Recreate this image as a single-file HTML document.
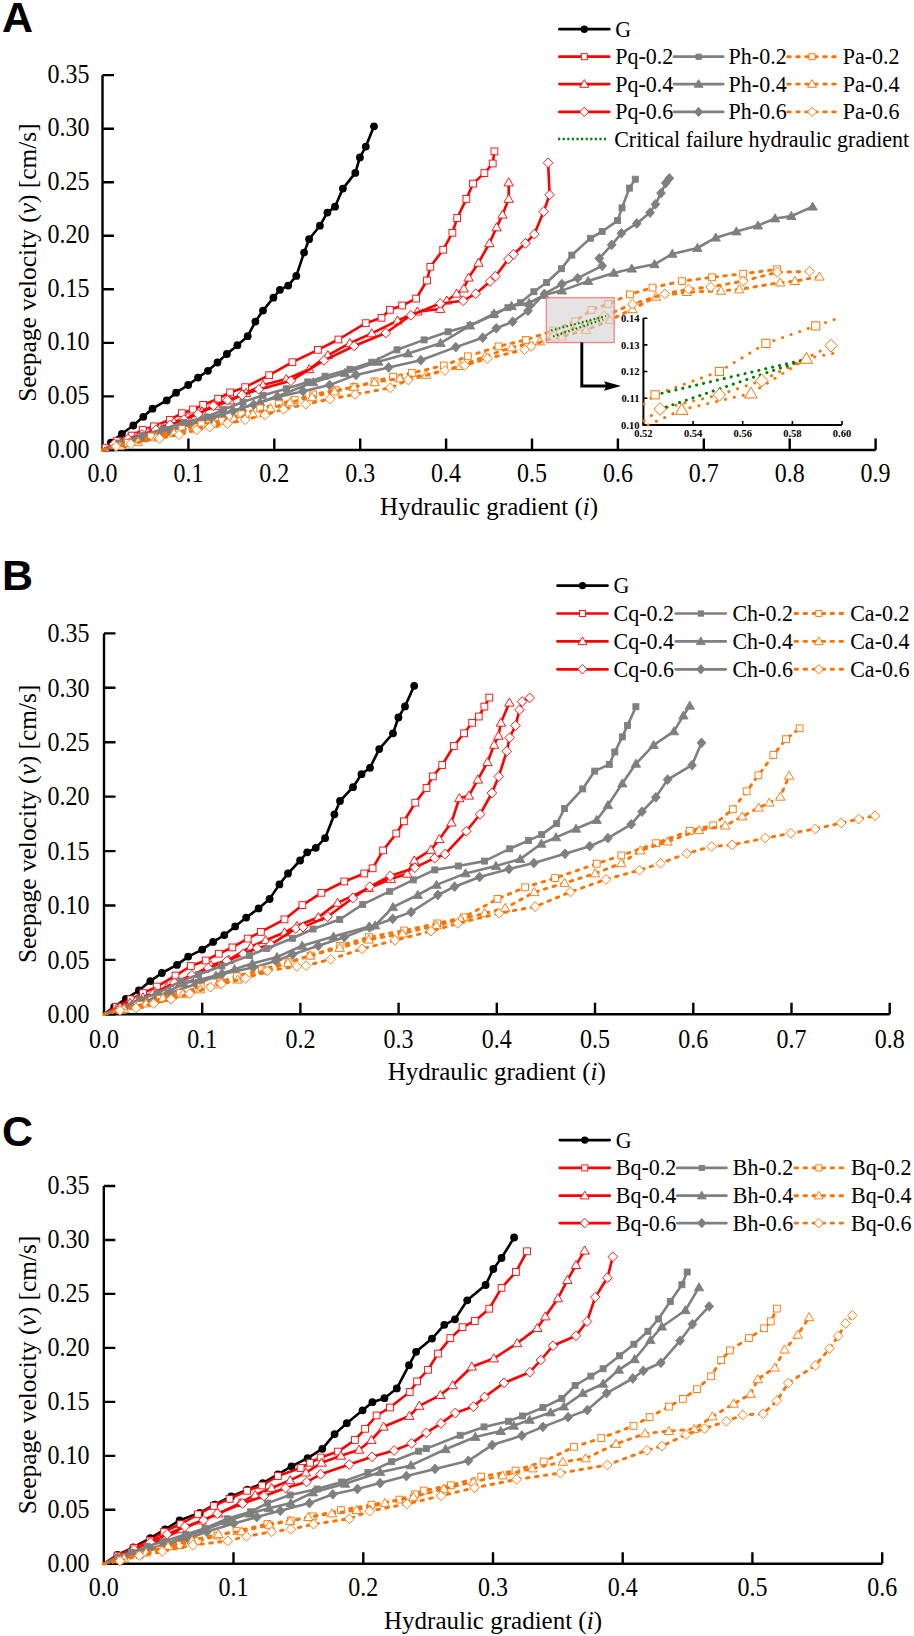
<!DOCTYPE html><html><head><meta charset="utf-8"><style>html,body{margin:0;padding:0;background:#fff;}svg{display:block;}</style></head><body>
<svg width="914" height="1636" viewBox="0 0 914 1636">
<rect width="914" height="1636" fill="#fff"/>
<g font-family='"Liberation Serif", serif' fill="#000">
<path d="M102.5,75.2V450.0H875.6" fill="none" stroke="#000" stroke-width="2.4"/>
<path d="M102.5,450.0h11.5M102.5,396.4h11.5M102.5,342.9h11.5M102.5,289.3h11.5M102.5,235.8h11.5M102.5,182.2h11.5M102.5,128.7h11.5M102.5,75.1h11.5M188.4,450.0v-11.5M274.3,450.0v-11.5M360.2,450.0v-11.5M446.1,450.0v-11.5M532.0,450.0v-11.5M617.9,450.0v-11.5M703.8,450.0v-11.5M789.7,450.0v-11.5M875.6,450.0v-11.5" fill="none" stroke="#000" stroke-width="2.4"/>
<text transform="translate(89.5,457.5) scale(1,1.12)" text-anchor="end" font-size="24">0.00</text>
<text transform="translate(89.5,403.9) scale(1,1.12)" text-anchor="end" font-size="24">0.05</text>
<text transform="translate(89.5,350.4) scale(1,1.12)" text-anchor="end" font-size="24">0.10</text>
<text transform="translate(89.5,296.8) scale(1,1.12)" text-anchor="end" font-size="24">0.15</text>
<text transform="translate(89.5,243.3) scale(1,1.12)" text-anchor="end" font-size="24">0.20</text>
<text transform="translate(89.5,189.8) scale(1,1.12)" text-anchor="end" font-size="24">0.25</text>
<text transform="translate(89.5,136.2) scale(1,1.12)" text-anchor="end" font-size="24">0.30</text>
<text transform="translate(89.5,82.6) scale(1,1.12)" text-anchor="end" font-size="24">0.35</text>
<text transform="translate(102.5,481.5) scale(1,1.12)" text-anchor="middle" font-size="24">0.0</text>
<text transform="translate(188.4,481.5) scale(1,1.12)" text-anchor="middle" font-size="24">0.1</text>
<text transform="translate(274.3,481.5) scale(1,1.12)" text-anchor="middle" font-size="24">0.2</text>
<text transform="translate(360.2,481.5) scale(1,1.12)" text-anchor="middle" font-size="24">0.3</text>
<text transform="translate(446.1,481.5) scale(1,1.12)" text-anchor="middle" font-size="24">0.4</text>
<text transform="translate(532.0,481.5) scale(1,1.12)" text-anchor="middle" font-size="24">0.5</text>
<text transform="translate(617.9,481.5) scale(1,1.12)" text-anchor="middle" font-size="24">0.6</text>
<text transform="translate(703.8,481.5) scale(1,1.12)" text-anchor="middle" font-size="24">0.7</text>
<text transform="translate(789.7,481.5) scale(1,1.12)" text-anchor="middle" font-size="24">0.8</text>
<text transform="translate(875.6,481.5) scale(1,1.12)" text-anchor="middle" font-size="24">0.9</text>
<text x="489.1" y="514.5" text-anchor="middle" font-size="25">Hydraulic gradient (<tspan font-style="italic">i</tspan>)</text>
<text transform="translate(36,262.6) rotate(-90)" text-anchor="middle" font-size="25.4">Seepage velocity (<tspan font-style="italic">v</tspan>) [cm/s]</text>
<text x="2" y="32.3" font-family="Liberation Sans, sans-serif" font-weight="bold" font-size="43">A</text>
<path d="M559.4,29.2H609.2" stroke="#000" stroke-width="2.7" stroke-linecap="round"/>
<circle cx="584.3" cy="29.2" r="3.70" fill="#000"/>
<text transform="translate(615.2,36.7) scale(1,1.05)" font-size="22">G</text>
<path d="M559.4,56.7H609.2" stroke="#ff0000" stroke-width="2.7" stroke-linecap="round"/>
<rect x="581.3" y="53.7" width="6.0" height="6.0" fill="#fff" stroke="#ff0000" stroke-width="0.9"/>
<text transform="translate(615.2,64.2) scale(1,1.05)" font-size="22">Pq-0.2</text>
<path d="M674.0,56.7H723.2" stroke="#7f7f7f" stroke-width="2.7" stroke-linecap="round"/>
<rect x="696.0" y="54.1" width="5.3" height="5.3" fill="#7f7f7f" stroke="#7f7f7f" stroke-width="0.9"/>
<text transform="translate(728.6,64.2) scale(1,1.05)" font-size="22">Ph-0.2</text>
<path d="M787.7,56.7H838" stroke="#ff7200" stroke-width="2.9" stroke-dasharray="2.6 6.4" stroke-linecap="round"/>
<rect x="809.1" y="53.7" width="6.0" height="6.0" fill="#fff" stroke="#ff7200" stroke-width="0.9"/>
<text transform="translate(842.8,64.2) scale(1,1.05)" font-size="22">Pa-0.2</text>
<path d="M559.4,84.1H609.2" stroke="#ff0000" stroke-width="2.7" stroke-linecap="round"/>
<path d="M584.3,79.6L588.8,87.3H579.8Z" fill="#fff" stroke="#ff0000" stroke-width="0.9"/>
<text transform="translate(615.2,91.6) scale(1,1.05)" font-size="22">Pq-0.4</text>
<path d="M674.0,84.1H723.2" stroke="#7f7f7f" stroke-width="2.7" stroke-linecap="round"/>
<path d="M698.6,79.6L703.1,87.3H694.1Z" fill="#7f7f7f" stroke="#7f7f7f" stroke-width="0.9"/>
<text transform="translate(728.6,91.6) scale(1,1.05)" font-size="22">Ph-0.4</text>
<path d="M787.7,84.1H838" stroke="#ff7200" stroke-width="2.9" stroke-dasharray="2.6 6.4" stroke-linecap="round"/>
<path d="M812.1,79.6L816.6,87.3H807.6Z" fill="#fff" stroke="#ff7200" stroke-width="0.9"/>
<text transform="translate(842.8,91.6) scale(1,1.05)" font-size="22">Pa-0.4</text>
<path d="M559.4,111.9H609.2" stroke="#ff0000" stroke-width="2.7" stroke-linecap="round"/>
<path d="M584.3,107.2L588.9,111.9L584.3,116.6L579.7,111.9Z" fill="#fff" stroke="#ff0000" stroke-width="0.9"/>
<text transform="translate(615.2,119.4) scale(1,1.05)" font-size="22">Pq-0.6</text>
<path d="M674.0,111.9H723.2" stroke="#7f7f7f" stroke-width="2.7" stroke-linecap="round"/>
<path d="M698.6,107.2L702.8,111.9L698.6,116.6L694.4,111.9Z" fill="#7f7f7f" stroke="#7f7f7f" stroke-width="0.9"/>
<text transform="translate(728.6,119.4) scale(1,1.05)" font-size="22">Ph-0.6</text>
<path d="M787.7,111.9H838" stroke="#ff7200" stroke-width="2.9" stroke-dasharray="2.6 6.4" stroke-linecap="round"/>
<path d="M812.1,107.2L816.7,111.9L812.1,116.6L807.5,111.9Z" fill="#fff" stroke="#ff7200" stroke-width="0.9"/>
<text transform="translate(842.8,119.4) scale(1,1.05)" font-size="22">Pa-0.6</text>
<path d="M558,139.0H606" stroke="#008000" stroke-width="2.6" stroke-dasharray="2.2 2.4"/>
<text transform="translate(614.2,146.5) scale(1,1.05)" font-size="22">Critical failure hydraulic gradient</text>
<path d="M102.5,450.0L110.9,442.6L121.9,433.8L133.3,425.5L143.3,416.8L152.5,408.7L166.7,400.4L176.1,392.7L188.2,385.0L198.0,377.6L207.9,370.8L217.5,362.5L226.9,354.0L237.4,345.2L247.7,336.2L255.4,321.6L263.0,310.6L273.4,297.7L279.9,289.8L288.2,285.6L296.3,275.9L304.1,252.6L309.1,239.2L319.9,225.7L327.4,212.6L335.0,206.7L342.9,188.6L355.3,172.9L359.9,157.4L365.8,146.6L374.0,126.3" fill="none" stroke="#000" stroke-width="2.6" stroke-linejoin="round"/>
<circle cx="110.9" cy="442.6" r="3.89" fill="#000"/>
<circle cx="121.9" cy="433.8" r="3.89" fill="#000"/>
<circle cx="133.3" cy="425.5" r="3.89" fill="#000"/>
<circle cx="143.3" cy="416.8" r="3.89" fill="#000"/>
<circle cx="152.5" cy="408.7" r="3.89" fill="#000"/>
<circle cx="166.7" cy="400.4" r="3.89" fill="#000"/>
<circle cx="176.1" cy="392.7" r="3.89" fill="#000"/>
<circle cx="188.2" cy="385.0" r="3.89" fill="#000"/>
<circle cx="198.0" cy="377.6" r="3.89" fill="#000"/>
<circle cx="207.9" cy="370.8" r="3.89" fill="#000"/>
<circle cx="217.5" cy="362.5" r="3.89" fill="#000"/>
<circle cx="226.9" cy="354.0" r="3.89" fill="#000"/>
<circle cx="237.4" cy="345.2" r="3.89" fill="#000"/>
<circle cx="247.7" cy="336.2" r="3.89" fill="#000"/>
<circle cx="255.4" cy="321.6" r="3.89" fill="#000"/>
<circle cx="263.0" cy="310.6" r="3.89" fill="#000"/>
<circle cx="273.4" cy="297.7" r="3.89" fill="#000"/>
<circle cx="279.9" cy="289.8" r="3.89" fill="#000"/>
<circle cx="288.2" cy="285.6" r="3.89" fill="#000"/>
<circle cx="296.3" cy="275.9" r="3.89" fill="#000"/>
<circle cx="304.1" cy="252.6" r="3.89" fill="#000"/>
<circle cx="309.1" cy="239.2" r="3.89" fill="#000"/>
<circle cx="319.9" cy="225.7" r="3.89" fill="#000"/>
<circle cx="327.4" cy="212.6" r="3.89" fill="#000"/>
<circle cx="335.0" cy="206.7" r="3.89" fill="#000"/>
<circle cx="342.9" cy="188.6" r="3.89" fill="#000"/>
<circle cx="355.3" cy="172.9" r="3.89" fill="#000"/>
<circle cx="359.9" cy="157.4" r="3.89" fill="#000"/>
<circle cx="365.8" cy="146.6" r="3.89" fill="#000"/>
<circle cx="374.0" cy="126.3" r="3.89" fill="#000"/>
<path d="M102.5,450.0L105.6,447.7L116.7,441.1L131.6,435.6L142.8,430.0L153.9,426.3L169.8,419.8L181.8,413.2L193.0,409.5L203.2,404.9L218.1,398.7L230.2,392.4L245.1,387.2L269.2,375.2L292.4,362.2L317.9,349.8L338.4,339.5L365.7,323.2L381.5,317.8L389.9,309.8L402.2,305.5L416.1,298.6L427.0,280.5L430.3,266.8L443.2,249.7L452.4,232.8L457.2,218.0L466.4,198.9L473.0,183.6L484.4,173.1L492.7,163.5L494.4,151.4" fill="none" stroke="#ff0000" stroke-width="2.6" stroke-linejoin="round"/>
<rect x="102.2" y="444.3" width="6.8" height="6.8" fill="#fff" stroke="#ff0000" stroke-width="0.9"/>
<rect x="113.3" y="437.7" width="6.8" height="6.8" fill="#fff" stroke="#ff0000" stroke-width="0.9"/>
<rect x="128.2" y="432.2" width="6.8" height="6.8" fill="#fff" stroke="#ff0000" stroke-width="0.9"/>
<rect x="139.4" y="426.6" width="6.8" height="6.8" fill="#fff" stroke="#ff0000" stroke-width="0.9"/>
<rect x="150.5" y="422.9" width="6.8" height="6.8" fill="#fff" stroke="#ff0000" stroke-width="0.9"/>
<rect x="166.4" y="416.4" width="6.8" height="6.8" fill="#fff" stroke="#ff0000" stroke-width="0.9"/>
<rect x="178.4" y="409.8" width="6.8" height="6.8" fill="#fff" stroke="#ff0000" stroke-width="0.9"/>
<rect x="189.6" y="406.1" width="6.8" height="6.8" fill="#fff" stroke="#ff0000" stroke-width="0.9"/>
<rect x="199.8" y="401.5" width="6.8" height="6.8" fill="#fff" stroke="#ff0000" stroke-width="0.9"/>
<rect x="214.7" y="395.3" width="6.8" height="6.8" fill="#fff" stroke="#ff0000" stroke-width="0.9"/>
<rect x="226.8" y="389.0" width="6.8" height="6.8" fill="#fff" stroke="#ff0000" stroke-width="0.9"/>
<rect x="241.7" y="383.8" width="6.8" height="6.8" fill="#fff" stroke="#ff0000" stroke-width="0.9"/>
<rect x="265.8" y="371.8" width="6.8" height="6.8" fill="#fff" stroke="#ff0000" stroke-width="0.9"/>
<rect x="289.0" y="358.8" width="6.8" height="6.8" fill="#fff" stroke="#ff0000" stroke-width="0.9"/>
<rect x="314.5" y="346.4" width="6.8" height="6.8" fill="#fff" stroke="#ff0000" stroke-width="0.9"/>
<rect x="335.0" y="336.1" width="6.8" height="6.8" fill="#fff" stroke="#ff0000" stroke-width="0.9"/>
<rect x="362.3" y="319.8" width="6.8" height="6.8" fill="#fff" stroke="#ff0000" stroke-width="0.9"/>
<rect x="378.1" y="314.4" width="6.8" height="6.8" fill="#fff" stroke="#ff0000" stroke-width="0.9"/>
<rect x="386.5" y="306.4" width="6.8" height="6.8" fill="#fff" stroke="#ff0000" stroke-width="0.9"/>
<rect x="398.8" y="302.1" width="6.8" height="6.8" fill="#fff" stroke="#ff0000" stroke-width="0.9"/>
<rect x="412.7" y="295.2" width="6.8" height="6.8" fill="#fff" stroke="#ff0000" stroke-width="0.9"/>
<rect x="423.6" y="277.1" width="6.8" height="6.8" fill="#fff" stroke="#ff0000" stroke-width="0.9"/>
<rect x="426.9" y="263.4" width="6.8" height="6.8" fill="#fff" stroke="#ff0000" stroke-width="0.9"/>
<rect x="439.8" y="246.3" width="6.8" height="6.8" fill="#fff" stroke="#ff0000" stroke-width="0.9"/>
<rect x="449.0" y="229.4" width="6.8" height="6.8" fill="#fff" stroke="#ff0000" stroke-width="0.9"/>
<rect x="453.8" y="214.6" width="6.8" height="6.8" fill="#fff" stroke="#ff0000" stroke-width="0.9"/>
<rect x="463.0" y="195.5" width="6.8" height="6.8" fill="#fff" stroke="#ff0000" stroke-width="0.9"/>
<rect x="469.6" y="180.2" width="6.8" height="6.8" fill="#fff" stroke="#ff0000" stroke-width="0.9"/>
<rect x="481.0" y="169.7" width="6.8" height="6.8" fill="#fff" stroke="#ff0000" stroke-width="0.9"/>
<rect x="489.3" y="160.1" width="6.8" height="6.8" fill="#fff" stroke="#ff0000" stroke-width="0.9"/>
<rect x="491.0" y="148.0" width="6.8" height="6.8" fill="#fff" stroke="#ff0000" stroke-width="0.9"/>
<path d="M102.5,450.0L112.0,445.5L124.0,441.0L136.0,436.5L148.0,432.0L160.0,427.5L174.0,422.0L188.0,417.0L202.0,411.5L216.0,406.0L230.0,400.5L246.0,393.0L263.0,385.1L286.3,379.1L309.2,369.3L327.8,355.3L349.9,343.2L371.8,333.4L397.5,320.6L417.4,311.6L440.2,309.0L446.7,300.7L456.6,293.7L463.8,288.6L468.6,277.7L478.5,262.8L489.4,243.3L496.6,227.4L502.5,214.7L508.7,198.9L508.7,182.5" fill="none" stroke="#ff0000" stroke-width="2.6" stroke-linejoin="round"/>
<path d="M112.0,440.8L116.7,448.9H107.3Z" fill="#fff" stroke="#ff0000" stroke-width="0.9"/>
<path d="M124.0,436.3L128.7,444.4H119.3Z" fill="#fff" stroke="#ff0000" stroke-width="0.9"/>
<path d="M136.0,431.8L140.7,439.9H131.3Z" fill="#fff" stroke="#ff0000" stroke-width="0.9"/>
<path d="M148.0,427.3L152.7,435.4H143.3Z" fill="#fff" stroke="#ff0000" stroke-width="0.9"/>
<path d="M160.0,422.8L164.7,430.9H155.3Z" fill="#fff" stroke="#ff0000" stroke-width="0.9"/>
<path d="M174.0,417.3L178.7,425.4H169.3Z" fill="#fff" stroke="#ff0000" stroke-width="0.9"/>
<path d="M188.0,412.3L192.7,420.4H183.3Z" fill="#fff" stroke="#ff0000" stroke-width="0.9"/>
<path d="M202.0,406.8L206.7,414.9H197.3Z" fill="#fff" stroke="#ff0000" stroke-width="0.9"/>
<path d="M216.0,401.3L220.7,409.4H211.3Z" fill="#fff" stroke="#ff0000" stroke-width="0.9"/>
<path d="M230.0,395.8L234.7,403.9H225.3Z" fill="#fff" stroke="#ff0000" stroke-width="0.9"/>
<path d="M246.0,388.3L250.7,396.4H241.3Z" fill="#fff" stroke="#ff0000" stroke-width="0.9"/>
<path d="M263.0,380.4L267.7,388.5H258.3Z" fill="#fff" stroke="#ff0000" stroke-width="0.9"/>
<path d="M286.3,374.4L291.0,382.5H281.6Z" fill="#fff" stroke="#ff0000" stroke-width="0.9"/>
<path d="M309.2,364.6L313.9,372.7H304.5Z" fill="#fff" stroke="#ff0000" stroke-width="0.9"/>
<path d="M327.8,350.6L332.5,358.7H323.1Z" fill="#fff" stroke="#ff0000" stroke-width="0.9"/>
<path d="M349.9,338.5L354.6,346.6H345.2Z" fill="#fff" stroke="#ff0000" stroke-width="0.9"/>
<path d="M371.8,328.7L376.5,336.8H367.1Z" fill="#fff" stroke="#ff0000" stroke-width="0.9"/>
<path d="M397.5,315.9L402.2,324.0H392.8Z" fill="#fff" stroke="#ff0000" stroke-width="0.9"/>
<path d="M417.4,306.9L422.1,315.0H412.7Z" fill="#fff" stroke="#ff0000" stroke-width="0.9"/>
<path d="M440.2,304.3L444.9,312.4H435.5Z" fill="#fff" stroke="#ff0000" stroke-width="0.9"/>
<path d="M446.7,296.0L451.4,304.1H442.0Z" fill="#fff" stroke="#ff0000" stroke-width="0.9"/>
<path d="M456.6,289.0L461.3,297.1H451.9Z" fill="#fff" stroke="#ff0000" stroke-width="0.9"/>
<path d="M463.8,283.9L468.5,292.0H459.1Z" fill="#fff" stroke="#ff0000" stroke-width="0.9"/>
<path d="M468.6,273.0L473.3,281.1H463.9Z" fill="#fff" stroke="#ff0000" stroke-width="0.9"/>
<path d="M478.5,258.1L483.2,266.2H473.8Z" fill="#fff" stroke="#ff0000" stroke-width="0.9"/>
<path d="M489.4,238.6L494.1,246.7H484.7Z" fill="#fff" stroke="#ff0000" stroke-width="0.9"/>
<path d="M496.6,222.7L501.3,230.8H491.9Z" fill="#fff" stroke="#ff0000" stroke-width="0.9"/>
<path d="M502.5,210.0L507.2,218.1H497.8Z" fill="#fff" stroke="#ff0000" stroke-width="0.9"/>
<path d="M508.7,194.2L513.4,202.3H504.0Z" fill="#fff" stroke="#ff0000" stroke-width="0.9"/>
<path d="M508.7,177.8L513.4,185.9H504.0Z" fill="#fff" stroke="#ff0000" stroke-width="0.9"/>
<path d="M102.5,450.0L114.0,444.0L128.0,439.0L142.0,434.5L156.0,430.0L170.0,425.0L184.0,419.5L198.0,414.0L213.5,405.8L227.4,400.2L242.0,395.0L258.9,389.4L290.9,380.8L324.0,360.4L354.2,346.0L385.8,333.0L410.9,315.3L440.2,303.5L463.2,300.7L475.8,293.7L490.1,281.4L495.5,276.2L508.4,259.1L513.5,254.3L525.5,243.3L534.3,234.2L543.7,211.6L549.6,194.8L548.1,162.8" fill="none" stroke="#ff0000" stroke-width="2.6" stroke-linejoin="round"/>
<path d="M114.0,439.1L118.8,444.0L114.0,448.9L109.2,444.0Z" fill="#fff" stroke="#ff0000" stroke-width="0.9"/>
<path d="M128.0,434.1L132.8,439.0L128.0,443.9L123.2,439.0Z" fill="#fff" stroke="#ff0000" stroke-width="0.9"/>
<path d="M142.0,429.6L146.8,434.5L142.0,439.4L137.2,434.5Z" fill="#fff" stroke="#ff0000" stroke-width="0.9"/>
<path d="M156.0,425.1L160.8,430.0L156.0,434.9L151.2,430.0Z" fill="#fff" stroke="#ff0000" stroke-width="0.9"/>
<path d="M170.0,420.1L174.8,425.0L170.0,429.9L165.2,425.0Z" fill="#fff" stroke="#ff0000" stroke-width="0.9"/>
<path d="M184.0,414.6L188.8,419.5L184.0,424.4L179.2,419.5Z" fill="#fff" stroke="#ff0000" stroke-width="0.9"/>
<path d="M198.0,409.1L202.8,414.0L198.0,418.9L193.2,414.0Z" fill="#fff" stroke="#ff0000" stroke-width="0.9"/>
<path d="M213.5,400.9L218.3,405.8L213.5,410.7L208.7,405.8Z" fill="#fff" stroke="#ff0000" stroke-width="0.9"/>
<path d="M227.4,395.3L232.2,400.2L227.4,405.1L222.6,400.2Z" fill="#fff" stroke="#ff0000" stroke-width="0.9"/>
<path d="M242.0,390.1L246.8,395.0L242.0,399.9L237.2,395.0Z" fill="#fff" stroke="#ff0000" stroke-width="0.9"/>
<path d="M258.9,384.5L263.7,389.4L258.9,394.3L254.1,389.4Z" fill="#fff" stroke="#ff0000" stroke-width="0.9"/>
<path d="M290.9,375.9L295.7,380.8L290.9,385.7L286.1,380.8Z" fill="#fff" stroke="#ff0000" stroke-width="0.9"/>
<path d="M324.0,355.5L328.8,360.4L324.0,365.3L319.2,360.4Z" fill="#fff" stroke="#ff0000" stroke-width="0.9"/>
<path d="M354.2,341.1L359.0,346.0L354.2,350.9L349.4,346.0Z" fill="#fff" stroke="#ff0000" stroke-width="0.9"/>
<path d="M385.8,328.1L390.6,333.0L385.8,337.9L381.0,333.0Z" fill="#fff" stroke="#ff0000" stroke-width="0.9"/>
<path d="M410.9,310.4L415.7,315.3L410.9,320.2L406.1,315.3Z" fill="#fff" stroke="#ff0000" stroke-width="0.9"/>
<path d="M440.2,298.6L445.0,303.5L440.2,308.4L435.4,303.5Z" fill="#fff" stroke="#ff0000" stroke-width="0.9"/>
<path d="M463.2,295.8L468.0,300.7L463.2,305.6L458.4,300.7Z" fill="#fff" stroke="#ff0000" stroke-width="0.9"/>
<path d="M475.8,288.8L480.6,293.7L475.8,298.6L471.0,293.7Z" fill="#fff" stroke="#ff0000" stroke-width="0.9"/>
<path d="M490.1,276.5L494.9,281.4L490.1,286.3L485.3,281.4Z" fill="#fff" stroke="#ff0000" stroke-width="0.9"/>
<path d="M495.5,271.3L500.3,276.2L495.5,281.1L490.7,276.2Z" fill="#fff" stroke="#ff0000" stroke-width="0.9"/>
<path d="M508.4,254.2L513.2,259.1L508.4,264.0L503.6,259.1Z" fill="#fff" stroke="#ff0000" stroke-width="0.9"/>
<path d="M513.5,249.4L518.3,254.3L513.5,259.2L508.7,254.3Z" fill="#fff" stroke="#ff0000" stroke-width="0.9"/>
<path d="M525.5,238.4L530.3,243.3L525.5,248.2L520.7,243.3Z" fill="#fff" stroke="#ff0000" stroke-width="0.9"/>
<path d="M534.3,229.3L539.1,234.2L534.3,239.1L529.5,234.2Z" fill="#fff" stroke="#ff0000" stroke-width="0.9"/>
<path d="M543.7,206.7L548.5,211.6L543.7,216.5L538.9,211.6Z" fill="#fff" stroke="#ff0000" stroke-width="0.9"/>
<path d="M549.6,189.9L554.4,194.8L549.6,199.7L544.8,194.8Z" fill="#fff" stroke="#ff0000" stroke-width="0.9"/>
<path d="M548.1,157.9L552.9,162.8L548.1,167.7L543.3,162.8Z" fill="#fff" stroke="#ff0000" stroke-width="0.9"/>
<path d="M102.5,450.0L118.6,443.0L141.9,435.6L163.2,429.1L183.7,422.5L207.0,417.0L223.7,409.5L243.0,402.0L263.0,395.3L286.3,388.8L307.7,381.9L325.0,376.2L349.9,369.3L371.8,362.2L397.0,349.8L424.1,339.9L448.1,331.8L470.0,325.6L494.1,314.7L507.9,307.7L520.4,302.7L533.9,291.7L546.6,282.5L561.5,268.7L571.8,255.1L590.4,238.3L602.2,231.5L617.6,220.6L622.0,207.9L629.4,188.1L635.3,179.2" fill="none" stroke="#7f7f7f" stroke-width="2.6" stroke-linejoin="round"/>
<rect x="115.6" y="440.0" width="6.0" height="6.0" fill="#7f7f7f" stroke="#7f7f7f" stroke-width="0.9"/>
<rect x="138.9" y="432.6" width="6.0" height="6.0" fill="#7f7f7f" stroke="#7f7f7f" stroke-width="0.9"/>
<rect x="160.2" y="426.1" width="6.0" height="6.0" fill="#7f7f7f" stroke="#7f7f7f" stroke-width="0.9"/>
<rect x="180.7" y="419.5" width="6.0" height="6.0" fill="#7f7f7f" stroke="#7f7f7f" stroke-width="0.9"/>
<rect x="204.0" y="414.0" width="6.0" height="6.0" fill="#7f7f7f" stroke="#7f7f7f" stroke-width="0.9"/>
<rect x="220.7" y="406.5" width="6.0" height="6.0" fill="#7f7f7f" stroke="#7f7f7f" stroke-width="0.9"/>
<rect x="240.0" y="399.0" width="6.0" height="6.0" fill="#7f7f7f" stroke="#7f7f7f" stroke-width="0.9"/>
<rect x="260.0" y="392.3" width="6.0" height="6.0" fill="#7f7f7f" stroke="#7f7f7f" stroke-width="0.9"/>
<rect x="283.3" y="385.8" width="6.0" height="6.0" fill="#7f7f7f" stroke="#7f7f7f" stroke-width="0.9"/>
<rect x="304.7" y="378.9" width="6.0" height="6.0" fill="#7f7f7f" stroke="#7f7f7f" stroke-width="0.9"/>
<rect x="322.0" y="373.2" width="6.0" height="6.0" fill="#7f7f7f" stroke="#7f7f7f" stroke-width="0.9"/>
<rect x="346.9" y="366.3" width="6.0" height="6.0" fill="#7f7f7f" stroke="#7f7f7f" stroke-width="0.9"/>
<rect x="368.8" y="359.2" width="6.0" height="6.0" fill="#7f7f7f" stroke="#7f7f7f" stroke-width="0.9"/>
<rect x="394.0" y="346.8" width="6.0" height="6.0" fill="#7f7f7f" stroke="#7f7f7f" stroke-width="0.9"/>
<rect x="421.1" y="336.9" width="6.0" height="6.0" fill="#7f7f7f" stroke="#7f7f7f" stroke-width="0.9"/>
<rect x="445.1" y="328.8" width="6.0" height="6.0" fill="#7f7f7f" stroke="#7f7f7f" stroke-width="0.9"/>
<rect x="467.0" y="322.6" width="6.0" height="6.0" fill="#7f7f7f" stroke="#7f7f7f" stroke-width="0.9"/>
<rect x="491.1" y="311.7" width="6.0" height="6.0" fill="#7f7f7f" stroke="#7f7f7f" stroke-width="0.9"/>
<rect x="504.9" y="304.7" width="6.0" height="6.0" fill="#7f7f7f" stroke="#7f7f7f" stroke-width="0.9"/>
<rect x="517.4" y="299.7" width="6.0" height="6.0" fill="#7f7f7f" stroke="#7f7f7f" stroke-width="0.9"/>
<rect x="530.9" y="288.7" width="6.0" height="6.0" fill="#7f7f7f" stroke="#7f7f7f" stroke-width="0.9"/>
<rect x="543.6" y="279.5" width="6.0" height="6.0" fill="#7f7f7f" stroke="#7f7f7f" stroke-width="0.9"/>
<rect x="558.5" y="265.7" width="6.0" height="6.0" fill="#7f7f7f" stroke="#7f7f7f" stroke-width="0.9"/>
<rect x="568.8" y="252.1" width="6.0" height="6.0" fill="#7f7f7f" stroke="#7f7f7f" stroke-width="0.9"/>
<rect x="587.4" y="235.3" width="6.0" height="6.0" fill="#7f7f7f" stroke="#7f7f7f" stroke-width="0.9"/>
<rect x="599.2" y="228.5" width="6.0" height="6.0" fill="#7f7f7f" stroke="#7f7f7f" stroke-width="0.9"/>
<rect x="614.6" y="217.6" width="6.0" height="6.0" fill="#7f7f7f" stroke="#7f7f7f" stroke-width="0.9"/>
<rect x="619.0" y="204.9" width="6.0" height="6.0" fill="#7f7f7f" stroke="#7f7f7f" stroke-width="0.9"/>
<rect x="626.4" y="185.1" width="6.0" height="6.0" fill="#7f7f7f" stroke="#7f7f7f" stroke-width="0.9"/>
<rect x="632.3" y="176.2" width="6.0" height="6.0" fill="#7f7f7f" stroke="#7f7f7f" stroke-width="0.9"/>
<path d="M102.5,450.0L122.0,444.0L142.0,438.0L162.0,432.0L182.0,426.0L202.0,420.0L222.0,414.0L242.0,408.0L260.0,402.0L277.9,396.3L313.2,382.3L344.9,373.0L378.3,361.8L408.1,353.5L440.5,343.2L470.0,325.6L494.1,313.6L511.6,306.0L529.1,303.0L544.4,295.0L561.9,290.6L588.1,281.1L613.8,272.9L631.8,268.7L654.5,264.3L672.3,253.9L697.4,248.0L715.7,237.7L736.4,231.5L757.9,225.6L775.1,218.5L791.3,216.1L812.6,206.7" fill="none" stroke="#7f7f7f" stroke-width="2.6" stroke-linejoin="round"/>
<path d="M122.0,439.3L126.7,447.4H117.3Z" fill="#7f7f7f" stroke="#7f7f7f" stroke-width="0.9"/>
<path d="M142.0,433.3L146.7,441.4H137.3Z" fill="#7f7f7f" stroke="#7f7f7f" stroke-width="0.9"/>
<path d="M162.0,427.3L166.7,435.4H157.3Z" fill="#7f7f7f" stroke="#7f7f7f" stroke-width="0.9"/>
<path d="M182.0,421.3L186.7,429.4H177.3Z" fill="#7f7f7f" stroke="#7f7f7f" stroke-width="0.9"/>
<path d="M202.0,415.3L206.7,423.4H197.3Z" fill="#7f7f7f" stroke="#7f7f7f" stroke-width="0.9"/>
<path d="M222.0,409.3L226.7,417.4H217.3Z" fill="#7f7f7f" stroke="#7f7f7f" stroke-width="0.9"/>
<path d="M242.0,403.3L246.7,411.4H237.3Z" fill="#7f7f7f" stroke="#7f7f7f" stroke-width="0.9"/>
<path d="M260.0,397.3L264.7,405.4H255.3Z" fill="#7f7f7f" stroke="#7f7f7f" stroke-width="0.9"/>
<path d="M277.9,391.6L282.6,399.7H273.2Z" fill="#7f7f7f" stroke="#7f7f7f" stroke-width="0.9"/>
<path d="M313.2,377.6L317.9,385.7H308.5Z" fill="#7f7f7f" stroke="#7f7f7f" stroke-width="0.9"/>
<path d="M344.9,368.3L349.6,376.4H340.2Z" fill="#7f7f7f" stroke="#7f7f7f" stroke-width="0.9"/>
<path d="M378.3,357.1L383.0,365.2H373.6Z" fill="#7f7f7f" stroke="#7f7f7f" stroke-width="0.9"/>
<path d="M408.1,348.8L412.8,356.9H403.4Z" fill="#7f7f7f" stroke="#7f7f7f" stroke-width="0.9"/>
<path d="M440.5,338.5L445.2,346.6H435.8Z" fill="#7f7f7f" stroke="#7f7f7f" stroke-width="0.9"/>
<path d="M470.0,320.9L474.7,329.0H465.3Z" fill="#7f7f7f" stroke="#7f7f7f" stroke-width="0.9"/>
<path d="M494.1,308.9L498.8,317.0H489.4Z" fill="#7f7f7f" stroke="#7f7f7f" stroke-width="0.9"/>
<path d="M511.6,301.3L516.3,309.4H506.9Z" fill="#7f7f7f" stroke="#7f7f7f" stroke-width="0.9"/>
<path d="M529.1,298.3L533.8,306.4H524.4Z" fill="#7f7f7f" stroke="#7f7f7f" stroke-width="0.9"/>
<path d="M544.4,290.3L549.1,298.4H539.7Z" fill="#7f7f7f" stroke="#7f7f7f" stroke-width="0.9"/>
<path d="M561.9,285.9L566.6,294.0H557.2Z" fill="#7f7f7f" stroke="#7f7f7f" stroke-width="0.9"/>
<path d="M588.1,276.4L592.8,284.5H583.4Z" fill="#7f7f7f" stroke="#7f7f7f" stroke-width="0.9"/>
<path d="M613.8,268.2L618.5,276.3H609.1Z" fill="#7f7f7f" stroke="#7f7f7f" stroke-width="0.9"/>
<path d="M631.8,264.0L636.5,272.1H627.1Z" fill="#7f7f7f" stroke="#7f7f7f" stroke-width="0.9"/>
<path d="M654.5,259.6L659.2,267.7H649.8Z" fill="#7f7f7f" stroke="#7f7f7f" stroke-width="0.9"/>
<path d="M672.3,249.2L677.0,257.3H667.6Z" fill="#7f7f7f" stroke="#7f7f7f" stroke-width="0.9"/>
<path d="M697.4,243.3L702.1,251.4H692.7Z" fill="#7f7f7f" stroke="#7f7f7f" stroke-width="0.9"/>
<path d="M715.7,233.0L720.4,241.1H711.0Z" fill="#7f7f7f" stroke="#7f7f7f" stroke-width="0.9"/>
<path d="M736.4,226.8L741.1,234.9H731.7Z" fill="#7f7f7f" stroke="#7f7f7f" stroke-width="0.9"/>
<path d="M757.9,220.9L762.6,229.0H753.2Z" fill="#7f7f7f" stroke="#7f7f7f" stroke-width="0.9"/>
<path d="M775.1,213.8L779.8,221.9H770.4Z" fill="#7f7f7f" stroke="#7f7f7f" stroke-width="0.9"/>
<path d="M791.3,211.4L796.0,219.5H786.6Z" fill="#7f7f7f" stroke="#7f7f7f" stroke-width="0.9"/>
<path d="M812.6,202.0L817.3,210.1H807.9Z" fill="#7f7f7f" stroke="#7f7f7f" stroke-width="0.9"/>
<path d="M102.5,450.0L124.0,443.5L146.0,437.5L168.0,431.0L190.0,424.5L212.0,418.0L233.0,411.0L253.7,404.6L277.0,397.2L303.0,391.2L329.6,385.1L356.0,374.9L388.6,367.4L420.8,360.2L455.8,347.1L482.7,337.7L496.3,328.3L512.7,321.7L528.0,310.8L544.4,293.9L561.9,284.1L577.7,278.2L602.2,265.8L599.3,258.4L611.7,244.8L621.4,233.3L636.8,223.5L650.1,212.6L655.4,204.3L661.0,193.1L665.8,183.0L669.3,178.3" fill="none" stroke="#7f7f7f" stroke-width="2.6" stroke-linejoin="round"/>
<path d="M124.0,438.6L128.4,443.5L124.0,448.4L119.6,443.5Z" fill="#7f7f7f" stroke="#7f7f7f" stroke-width="0.9"/>
<path d="M146.0,432.6L150.4,437.5L146.0,442.4L141.6,437.5Z" fill="#7f7f7f" stroke="#7f7f7f" stroke-width="0.9"/>
<path d="M168.0,426.1L172.4,431.0L168.0,435.9L163.6,431.0Z" fill="#7f7f7f" stroke="#7f7f7f" stroke-width="0.9"/>
<path d="M190.0,419.6L194.4,424.5L190.0,429.4L185.6,424.5Z" fill="#7f7f7f" stroke="#7f7f7f" stroke-width="0.9"/>
<path d="M212.0,413.1L216.4,418.0L212.0,422.9L207.6,418.0Z" fill="#7f7f7f" stroke="#7f7f7f" stroke-width="0.9"/>
<path d="M233.0,406.1L237.4,411.0L233.0,415.9L228.6,411.0Z" fill="#7f7f7f" stroke="#7f7f7f" stroke-width="0.9"/>
<path d="M253.7,399.7L258.1,404.6L253.7,409.5L249.3,404.6Z" fill="#7f7f7f" stroke="#7f7f7f" stroke-width="0.9"/>
<path d="M277.0,392.3L281.4,397.2L277.0,402.1L272.6,397.2Z" fill="#7f7f7f" stroke="#7f7f7f" stroke-width="0.9"/>
<path d="M303.0,386.3L307.4,391.2L303.0,396.1L298.6,391.2Z" fill="#7f7f7f" stroke="#7f7f7f" stroke-width="0.9"/>
<path d="M329.6,380.2L334.0,385.1L329.6,390.0L325.2,385.1Z" fill="#7f7f7f" stroke="#7f7f7f" stroke-width="0.9"/>
<path d="M356.0,370.0L360.4,374.9L356.0,379.8L351.6,374.9Z" fill="#7f7f7f" stroke="#7f7f7f" stroke-width="0.9"/>
<path d="M388.6,362.5L393.0,367.4L388.6,372.3L384.2,367.4Z" fill="#7f7f7f" stroke="#7f7f7f" stroke-width="0.9"/>
<path d="M420.8,355.3L425.2,360.2L420.8,365.1L416.4,360.2Z" fill="#7f7f7f" stroke="#7f7f7f" stroke-width="0.9"/>
<path d="M455.8,342.2L460.2,347.1L455.8,352.0L451.4,347.1Z" fill="#7f7f7f" stroke="#7f7f7f" stroke-width="0.9"/>
<path d="M482.7,332.8L487.1,337.7L482.7,342.6L478.3,337.7Z" fill="#7f7f7f" stroke="#7f7f7f" stroke-width="0.9"/>
<path d="M496.3,323.4L500.7,328.3L496.3,333.2L491.9,328.3Z" fill="#7f7f7f" stroke="#7f7f7f" stroke-width="0.9"/>
<path d="M512.7,316.8L517.1,321.7L512.7,326.6L508.3,321.7Z" fill="#7f7f7f" stroke="#7f7f7f" stroke-width="0.9"/>
<path d="M528.0,305.9L532.4,310.8L528.0,315.7L523.6,310.8Z" fill="#7f7f7f" stroke="#7f7f7f" stroke-width="0.9"/>
<path d="M544.4,289.0L548.8,293.9L544.4,298.8L540.0,293.9Z" fill="#7f7f7f" stroke="#7f7f7f" stroke-width="0.9"/>
<path d="M561.9,279.2L566.3,284.1L561.9,289.0L557.5,284.1Z" fill="#7f7f7f" stroke="#7f7f7f" stroke-width="0.9"/>
<path d="M577.7,273.3L582.1,278.2L577.7,283.1L573.3,278.2Z" fill="#7f7f7f" stroke="#7f7f7f" stroke-width="0.9"/>
<path d="M602.2,260.9L606.6,265.8L602.2,270.7L597.8,265.8Z" fill="#7f7f7f" stroke="#7f7f7f" stroke-width="0.9"/>
<path d="M599.3,253.5L603.7,258.4L599.3,263.3L594.9,258.4Z" fill="#7f7f7f" stroke="#7f7f7f" stroke-width="0.9"/>
<path d="M611.7,239.9L616.1,244.8L611.7,249.7L607.3,244.8Z" fill="#7f7f7f" stroke="#7f7f7f" stroke-width="0.9"/>
<path d="M621.4,228.4L625.8,233.3L621.4,238.2L617.0,233.3Z" fill="#7f7f7f" stroke="#7f7f7f" stroke-width="0.9"/>
<path d="M636.8,218.6L641.2,223.5L636.8,228.4L632.4,223.5Z" fill="#7f7f7f" stroke="#7f7f7f" stroke-width="0.9"/>
<path d="M650.1,207.7L654.5,212.6L650.1,217.5L645.7,212.6Z" fill="#7f7f7f" stroke="#7f7f7f" stroke-width="0.9"/>
<path d="M655.4,199.4L659.8,204.3L655.4,209.2L651.0,204.3Z" fill="#7f7f7f" stroke="#7f7f7f" stroke-width="0.9"/>
<path d="M661.0,188.2L665.4,193.1L661.0,198.0L656.6,193.1Z" fill="#7f7f7f" stroke="#7f7f7f" stroke-width="0.9"/>
<path d="M665.8,178.1L670.2,183.0L665.8,187.9L661.4,183.0Z" fill="#7f7f7f" stroke="#7f7f7f" stroke-width="0.9"/>
<path d="M669.3,173.4L673.7,178.3L669.3,183.2L664.9,178.3Z" fill="#7f7f7f" stroke="#7f7f7f" stroke-width="0.9"/>
<path d="M102.5,450.0L127.9,443.0L151.2,436.5L181.8,429.1L201.4,424.4L221.8,420.7L241.4,414.2L260.2,408.3L278.8,403.7L294.6,400.0L313.2,394.4L335.6,390.1L354.2,387.0L374.6,381.4L393.2,376.7L411.8,373.0L443.8,365.5L467.8,356.3L498.5,346.4L525.8,339.9L553.2,330.5L575.1,321.3L591.5,309.9L608.2,303.9L630.0,294.4L652.5,287.6L682.0,281.1L712.1,277.3L743.2,273.7L777.1,269.3" fill="none" stroke="#ff7200" stroke-width="2.9" stroke-dasharray="2.6 6.4" stroke-linecap="round" stroke-linejoin="round"/>
<rect x="124.5" y="439.6" width="6.8" height="6.8" fill="#fff" stroke="#ff7200" stroke-width="0.9"/>
<rect x="147.8" y="433.1" width="6.8" height="6.8" fill="#fff" stroke="#ff7200" stroke-width="0.9"/>
<rect x="178.4" y="425.7" width="6.8" height="6.8" fill="#fff" stroke="#ff7200" stroke-width="0.9"/>
<rect x="198.0" y="421.0" width="6.8" height="6.8" fill="#fff" stroke="#ff7200" stroke-width="0.9"/>
<rect x="218.4" y="417.3" width="6.8" height="6.8" fill="#fff" stroke="#ff7200" stroke-width="0.9"/>
<rect x="238.0" y="410.8" width="6.8" height="6.8" fill="#fff" stroke="#ff7200" stroke-width="0.9"/>
<rect x="256.8" y="404.9" width="6.8" height="6.8" fill="#fff" stroke="#ff7200" stroke-width="0.9"/>
<rect x="275.4" y="400.3" width="6.8" height="6.8" fill="#fff" stroke="#ff7200" stroke-width="0.9"/>
<rect x="291.2" y="396.6" width="6.8" height="6.8" fill="#fff" stroke="#ff7200" stroke-width="0.9"/>
<rect x="309.8" y="391.0" width="6.8" height="6.8" fill="#fff" stroke="#ff7200" stroke-width="0.9"/>
<rect x="332.2" y="386.7" width="6.8" height="6.8" fill="#fff" stroke="#ff7200" stroke-width="0.9"/>
<rect x="350.8" y="383.6" width="6.8" height="6.8" fill="#fff" stroke="#ff7200" stroke-width="0.9"/>
<rect x="371.2" y="378.0" width="6.8" height="6.8" fill="#fff" stroke="#ff7200" stroke-width="0.9"/>
<rect x="389.8" y="373.3" width="6.8" height="6.8" fill="#fff" stroke="#ff7200" stroke-width="0.9"/>
<rect x="408.4" y="369.6" width="6.8" height="6.8" fill="#fff" stroke="#ff7200" stroke-width="0.9"/>
<rect x="440.4" y="362.1" width="6.8" height="6.8" fill="#fff" stroke="#ff7200" stroke-width="0.9"/>
<rect x="464.4" y="352.9" width="6.8" height="6.8" fill="#fff" stroke="#ff7200" stroke-width="0.9"/>
<rect x="495.1" y="343.0" width="6.8" height="6.8" fill="#fff" stroke="#ff7200" stroke-width="0.9"/>
<rect x="522.4" y="336.5" width="6.8" height="6.8" fill="#fff" stroke="#ff7200" stroke-width="0.9"/>
<rect x="549.8" y="327.1" width="6.8" height="6.8" fill="#fff" stroke="#ff7200" stroke-width="0.9"/>
<rect x="571.7" y="317.9" width="6.8" height="6.8" fill="#fff" stroke="#ff7200" stroke-width="0.9"/>
<rect x="588.1" y="306.5" width="6.8" height="6.8" fill="#fff" stroke="#ff7200" stroke-width="0.9"/>
<rect x="604.8" y="300.5" width="6.8" height="6.8" fill="#fff" stroke="#ff7200" stroke-width="0.9"/>
<rect x="626.6" y="291.0" width="6.8" height="6.8" fill="#fff" stroke="#ff7200" stroke-width="0.9"/>
<rect x="649.1" y="284.2" width="6.8" height="6.8" fill="#fff" stroke="#ff7200" stroke-width="0.9"/>
<rect x="678.6" y="277.7" width="6.8" height="6.8" fill="#fff" stroke="#ff7200" stroke-width="0.9"/>
<rect x="708.7" y="273.9" width="6.8" height="6.8" fill="#fff" stroke="#ff7200" stroke-width="0.9"/>
<rect x="739.8" y="270.3" width="6.8" height="6.8" fill="#fff" stroke="#ff7200" stroke-width="0.9"/>
<rect x="773.7" y="265.9" width="6.8" height="6.8" fill="#fff" stroke="#ff7200" stroke-width="0.9"/>
<path d="M102.5,450.0L120.0,446.0L138.0,442.0L156.0,437.5L174.0,433.0L194.0,428.5L214.0,424.0L234.0,419.0L252.8,413.9L270.5,408.3L290.0,402.4L312.0,397.0L334.6,391.6L354.0,387.0L374.6,382.3L400.0,378.5L426.3,374.9L460.2,366.1L485.3,356.3L511.6,347.5L540.0,341.4L561.9,336.6L586.0,330.0L610.0,320.0L632.4,309.2L656.0,296.8L687.0,292.1L721.0,290.9L739.3,289.4L780.1,282.6L794.9,281.1L819.4,276.7" fill="none" stroke="#ff7200" stroke-width="2.9" stroke-dasharray="2.6 6.4" stroke-linecap="round" stroke-linejoin="round"/>
<path d="M120.0,441.3L124.7,449.4H115.3Z" fill="#fff" stroke="#ff7200" stroke-width="0.9"/>
<path d="M138.0,437.3L142.7,445.4H133.3Z" fill="#fff" stroke="#ff7200" stroke-width="0.9"/>
<path d="M156.0,432.8L160.7,440.9H151.3Z" fill="#fff" stroke="#ff7200" stroke-width="0.9"/>
<path d="M174.0,428.3L178.7,436.4H169.3Z" fill="#fff" stroke="#ff7200" stroke-width="0.9"/>
<path d="M194.0,423.8L198.7,431.9H189.3Z" fill="#fff" stroke="#ff7200" stroke-width="0.9"/>
<path d="M214.0,419.3L218.7,427.4H209.3Z" fill="#fff" stroke="#ff7200" stroke-width="0.9"/>
<path d="M234.0,414.3L238.7,422.4H229.3Z" fill="#fff" stroke="#ff7200" stroke-width="0.9"/>
<path d="M252.8,409.2L257.5,417.3H248.1Z" fill="#fff" stroke="#ff7200" stroke-width="0.9"/>
<path d="M270.5,403.6L275.2,411.7H265.8Z" fill="#fff" stroke="#ff7200" stroke-width="0.9"/>
<path d="M290.0,397.7L294.7,405.8H285.3Z" fill="#fff" stroke="#ff7200" stroke-width="0.9"/>
<path d="M312.0,392.3L316.7,400.4H307.3Z" fill="#fff" stroke="#ff7200" stroke-width="0.9"/>
<path d="M334.6,386.9L339.3,395.0H329.9Z" fill="#fff" stroke="#ff7200" stroke-width="0.9"/>
<path d="M354.0,382.3L358.7,390.4H349.3Z" fill="#fff" stroke="#ff7200" stroke-width="0.9"/>
<path d="M374.6,377.6L379.3,385.7H369.9Z" fill="#fff" stroke="#ff7200" stroke-width="0.9"/>
<path d="M400.0,373.8L404.7,381.9H395.3Z" fill="#fff" stroke="#ff7200" stroke-width="0.9"/>
<path d="M426.3,370.2L431.0,378.3H421.6Z" fill="#fff" stroke="#ff7200" stroke-width="0.9"/>
<path d="M460.2,361.4L464.9,369.5H455.5Z" fill="#fff" stroke="#ff7200" stroke-width="0.9"/>
<path d="M485.3,351.6L490.0,359.7H480.6Z" fill="#fff" stroke="#ff7200" stroke-width="0.9"/>
<path d="M511.6,342.8L516.3,350.9H506.9Z" fill="#fff" stroke="#ff7200" stroke-width="0.9"/>
<path d="M540.0,336.7L544.7,344.8H535.3Z" fill="#fff" stroke="#ff7200" stroke-width="0.9"/>
<path d="M561.9,331.9L566.6,340.0H557.2Z" fill="#fff" stroke="#ff7200" stroke-width="0.9"/>
<path d="M586.0,325.3L590.7,333.4H581.3Z" fill="#fff" stroke="#ff7200" stroke-width="0.9"/>
<path d="M610.0,315.3L614.7,323.4H605.3Z" fill="#fff" stroke="#ff7200" stroke-width="0.9"/>
<path d="M632.4,304.5L637.1,312.6H627.7Z" fill="#fff" stroke="#ff7200" stroke-width="0.9"/>
<path d="M656.0,292.1L660.7,300.2H651.3Z" fill="#fff" stroke="#ff7200" stroke-width="0.9"/>
<path d="M687.0,287.4L691.7,295.5H682.3Z" fill="#fff" stroke="#ff7200" stroke-width="0.9"/>
<path d="M721.0,286.2L725.7,294.3H716.3Z" fill="#fff" stroke="#ff7200" stroke-width="0.9"/>
<path d="M739.3,284.7L744.0,292.8H734.6Z" fill="#fff" stroke="#ff7200" stroke-width="0.9"/>
<path d="M780.1,277.9L784.8,286.0H775.4Z" fill="#fff" stroke="#ff7200" stroke-width="0.9"/>
<path d="M794.9,276.4L799.6,284.5H790.2Z" fill="#fff" stroke="#ff7200" stroke-width="0.9"/>
<path d="M819.4,272.0L824.1,280.1H814.7Z" fill="#fff" stroke="#ff7200" stroke-width="0.9"/>
<path d="M102.5,450.0L116.0,446.5L130.7,443.9L159.5,438.4L179.1,434.6L196.7,430.0L209.7,427.2L227.4,423.5L245.1,419.8L264.9,414.9L283.5,409.3L305.8,404.3L330.0,399.0L355.1,394.4L390.4,387.9L408.3,379.9L444.9,370.5L464.6,365.5L487.5,358.5L524.7,349.7L531.3,346.4L553.2,336.6L578.0,326.0L604.0,316.0L632.4,304.2L664.9,293.8L688.5,289.1L710.7,287.0L743.2,281.1L777.1,272.3L809.6,271.4" fill="none" stroke="#ff7200" stroke-width="2.9" stroke-dasharray="2.6 6.4" stroke-linecap="round" stroke-linejoin="round"/>
<path d="M116.0,441.6L120.8,446.5L116.0,451.4L111.2,446.5Z" fill="#fff" stroke="#ff7200" stroke-width="0.9"/>
<path d="M130.7,439.0L135.5,443.9L130.7,448.8L125.9,443.9Z" fill="#fff" stroke="#ff7200" stroke-width="0.9"/>
<path d="M159.5,433.5L164.3,438.4L159.5,443.3L154.7,438.4Z" fill="#fff" stroke="#ff7200" stroke-width="0.9"/>
<path d="M179.1,429.7L183.9,434.6L179.1,439.5L174.3,434.6Z" fill="#fff" stroke="#ff7200" stroke-width="0.9"/>
<path d="M196.7,425.1L201.5,430.0L196.7,434.9L191.9,430.0Z" fill="#fff" stroke="#ff7200" stroke-width="0.9"/>
<path d="M209.7,422.3L214.5,427.2L209.7,432.1L204.9,427.2Z" fill="#fff" stroke="#ff7200" stroke-width="0.9"/>
<path d="M227.4,418.6L232.2,423.5L227.4,428.4L222.6,423.5Z" fill="#fff" stroke="#ff7200" stroke-width="0.9"/>
<path d="M245.1,414.9L249.9,419.8L245.1,424.7L240.3,419.8Z" fill="#fff" stroke="#ff7200" stroke-width="0.9"/>
<path d="M264.9,410.0L269.7,414.9L264.9,419.8L260.1,414.9Z" fill="#fff" stroke="#ff7200" stroke-width="0.9"/>
<path d="M283.5,404.4L288.3,409.3L283.5,414.2L278.7,409.3Z" fill="#fff" stroke="#ff7200" stroke-width="0.9"/>
<path d="M305.8,399.4L310.6,404.3L305.8,409.2L301.0,404.3Z" fill="#fff" stroke="#ff7200" stroke-width="0.9"/>
<path d="M330.0,394.1L334.8,399.0L330.0,403.9L325.2,399.0Z" fill="#fff" stroke="#ff7200" stroke-width="0.9"/>
<path d="M355.1,389.5L359.9,394.4L355.1,399.3L350.3,394.4Z" fill="#fff" stroke="#ff7200" stroke-width="0.9"/>
<path d="M390.4,383.0L395.2,387.9L390.4,392.8L385.6,387.9Z" fill="#fff" stroke="#ff7200" stroke-width="0.9"/>
<path d="M408.3,375.0L413.1,379.9L408.3,384.8L403.5,379.9Z" fill="#fff" stroke="#ff7200" stroke-width="0.9"/>
<path d="M444.9,365.6L449.7,370.5L444.9,375.4L440.1,370.5Z" fill="#fff" stroke="#ff7200" stroke-width="0.9"/>
<path d="M464.6,360.6L469.4,365.5L464.6,370.4L459.8,365.5Z" fill="#fff" stroke="#ff7200" stroke-width="0.9"/>
<path d="M487.5,353.6L492.3,358.5L487.5,363.4L482.7,358.5Z" fill="#fff" stroke="#ff7200" stroke-width="0.9"/>
<path d="M524.7,344.8L529.5,349.7L524.7,354.6L519.9,349.7Z" fill="#fff" stroke="#ff7200" stroke-width="0.9"/>
<path d="M531.3,341.5L536.1,346.4L531.3,351.3L526.5,346.4Z" fill="#fff" stroke="#ff7200" stroke-width="0.9"/>
<path d="M553.2,331.7L558.0,336.6L553.2,341.5L548.4,336.6Z" fill="#fff" stroke="#ff7200" stroke-width="0.9"/>
<path d="M578.0,321.1L582.8,326.0L578.0,330.9L573.2,326.0Z" fill="#fff" stroke="#ff7200" stroke-width="0.9"/>
<path d="M604.0,311.1L608.8,316.0L604.0,320.9L599.2,316.0Z" fill="#fff" stroke="#ff7200" stroke-width="0.9"/>
<path d="M632.4,299.3L637.2,304.2L632.4,309.1L627.6,304.2Z" fill="#fff" stroke="#ff7200" stroke-width="0.9"/>
<path d="M664.9,288.9L669.7,293.8L664.9,298.7L660.1,293.8Z" fill="#fff" stroke="#ff7200" stroke-width="0.9"/>
<path d="M688.5,284.2L693.3,289.1L688.5,294.0L683.7,289.1Z" fill="#fff" stroke="#ff7200" stroke-width="0.9"/>
<path d="M710.7,282.1L715.5,287.0L710.7,291.9L705.9,287.0Z" fill="#fff" stroke="#ff7200" stroke-width="0.9"/>
<path d="M743.2,276.2L748.0,281.1L743.2,286.0L738.4,281.1Z" fill="#fff" stroke="#ff7200" stroke-width="0.9"/>
<path d="M777.1,267.4L781.9,272.3L777.1,277.2L772.3,272.3Z" fill="#fff" stroke="#ff7200" stroke-width="0.9"/>
<path d="M809.6,266.5L814.4,271.4L809.6,276.3L804.8,271.4Z" fill="#fff" stroke="#ff7200" stroke-width="0.9"/>
<rect x="546.3" y="297.7" width="67.9" height="44.8" fill="#d3d3d3" fill-opacity="0.62" stroke="#ff7f7f" stroke-width="1.3"/>
<path d="M551,330.5L606,316M553,336.5L603,319.5" stroke="#008000" stroke-width="2.2" stroke-dasharray="1.6 2.4" fill="none"/>
<path d="M581.8,342.5V386H610" fill="none" stroke="#000" stroke-width="2.9"/>
<path d="M621,386L604,381.2Q607.5,386,604,390.8Z" fill="#000"/>
<path d="M643.4,318.2V424.9H842.0" fill="none" stroke="#000" stroke-width="2"/>
<path d="M643.4,424.9h4M643.4,424.9v-4M643.4,398.2h4M693.1,424.9v-4M643.4,371.5h4M742.7,424.9v-4M643.4,344.9h4M792.4,424.9v-4M643.4,318.2h4M842.0,424.9v-4" stroke="#000" stroke-width="1.6"/>
<text x="639.4" y="428.7" text-anchor="end" font-size="10.5" font-weight="bold">0.10</text>
<text x="643.4" y="436.9" text-anchor="middle" font-size="10.5" font-weight="bold">0.52</text>
<text x="639.4" y="402.0" text-anchor="end" font-size="10.5" font-weight="bold">0.11</text>
<text x="693.1" y="436.9" text-anchor="middle" font-size="10.5" font-weight="bold">0.54</text>
<text x="639.4" y="375.3" text-anchor="end" font-size="10.5" font-weight="bold">0.12</text>
<text x="742.7" y="436.9" text-anchor="middle" font-size="10.5" font-weight="bold">0.56</text>
<text x="639.4" y="348.7" text-anchor="end" font-size="10.5" font-weight="bold">0.13</text>
<text x="792.4" y="436.9" text-anchor="middle" font-size="10.5" font-weight="bold">0.58</text>
<text x="639.4" y="322.0" text-anchor="end" font-size="10.5" font-weight="bold">0.14</text>
<text x="842.0" y="436.9" text-anchor="middle" font-size="10.5" font-weight="bold">0.60</text>
<path d="M644,404L655.1,394.8L719.4,371.5L765.9,343.4L815.7,325.9L838.4,318.2" fill="none" stroke="#ff7200" stroke-width="3" stroke-dasharray="0.1 9" stroke-linecap="round"/>
<path d="M644,421L660.1,409L719.4,394.8L761.8,380.6L831,345.6L834,343" fill="none" stroke="#ff7200" stroke-width="3" stroke-dasharray="0.1 9" stroke-linecap="round"/>
<path d="M648,425L681.7,409.8L750.9,393.4L806.4,358.7L834.3,353.2" fill="none" stroke="#ff7200" stroke-width="3" stroke-dasharray="0.1 9" stroke-linecap="round"/>
<path d="M655.1,394.8L806.4,359.2" fill="none" stroke="#008000" stroke-width="3" stroke-dasharray="0.1 7" stroke-linecap="round"/>
<path d="M666.1,407.1L806.4,359.2" fill="none" stroke="#008000" stroke-width="3" stroke-dasharray="0.1 7" stroke-linecap="round"/>
<rect x="651.0" y="390.7" width="8.2" height="8.2" fill="#fff" stroke="#ff7200" stroke-width="1.0"/>
<rect x="715.3" y="367.4" width="8.2" height="8.2" fill="#fff" stroke="#ff7200" stroke-width="1.0"/>
<rect x="761.8" y="339.3" width="8.2" height="8.2" fill="#fff" stroke="#ff7200" stroke-width="1.0"/>
<rect x="811.6" y="321.8" width="8.2" height="8.2" fill="#fff" stroke="#ff7200" stroke-width="1.0"/>
<path d="M660.1,402.6L666.3,409.0L660.1,415.4L653.9,409.0Z" fill="#fff" stroke="#ff7200" stroke-width="1.0"/>
<path d="M719.4,388.4L725.6,394.8L719.4,401.2L713.2,394.8Z" fill="#fff" stroke="#ff7200" stroke-width="1.0"/>
<path d="M761.8,374.2L768.0,380.6L761.8,387.0L755.6,380.6Z" fill="#fff" stroke="#ff7200" stroke-width="1.0"/>
<path d="M831.0,339.2L837.2,345.6L831.0,352.0L824.8,345.6Z" fill="#fff" stroke="#ff7200" stroke-width="1.0"/>
<path d="M681.7,403.5L688.0,414.4H675.4Z" fill="#fff" stroke="#ff7200" stroke-width="1.0"/>
<path d="M750.9,387.1L757.2,398.0H744.6Z" fill="#fff" stroke="#ff7200" stroke-width="1.0"/>
<path d="M806.4,352.4L812.7,363.3H800.1Z" fill="#fff" stroke="#ff7200" stroke-width="1.0"/>
</g>
<g font-family='"Liberation Serif", serif' fill="#000">
<path d="M104.0,633.4V1014.3H889.7" fill="none" stroke="#000" stroke-width="2.4"/>
<path d="M104.0,1014.3h11.5M104.0,959.9h11.5M104.0,905.5h11.5M104.0,851.1h11.5M104.0,796.6h11.5M104.0,742.2h11.5M104.0,687.8h11.5M104.0,633.4h11.5M202.2,1014.3v-11.5M300.4,1014.3v-11.5M398.6,1014.3v-11.5M496.8,1014.3v-11.5M595.0,1014.3v-11.5M693.3,1014.3v-11.5M791.5,1014.3v-11.5M889.7,1014.3v-11.5" fill="none" stroke="#000" stroke-width="2.4"/>
<text transform="translate(89.5,1023.1) scale(1,1.12)" text-anchor="end" font-size="24">0.00</text>
<text transform="translate(89.5,968.7) scale(1,1.12)" text-anchor="end" font-size="24">0.05</text>
<text transform="translate(89.5,914.3) scale(1,1.12)" text-anchor="end" font-size="24">0.10</text>
<text transform="translate(89.5,859.9) scale(1,1.12)" text-anchor="end" font-size="24">0.15</text>
<text transform="translate(89.5,805.4) scale(1,1.12)" text-anchor="end" font-size="24">0.20</text>
<text transform="translate(89.5,751.0) scale(1,1.12)" text-anchor="end" font-size="24">0.25</text>
<text transform="translate(89.5,696.6) scale(1,1.12)" text-anchor="end" font-size="24">0.30</text>
<text transform="translate(89.5,642.2) scale(1,1.12)" text-anchor="end" font-size="24">0.35</text>
<text transform="translate(104.0,1047.9) scale(1,1.12)" text-anchor="middle" font-size="24">0.0</text>
<text transform="translate(202.2,1047.9) scale(1,1.12)" text-anchor="middle" font-size="24">0.1</text>
<text transform="translate(300.4,1047.9) scale(1,1.12)" text-anchor="middle" font-size="24">0.2</text>
<text transform="translate(398.6,1047.9) scale(1,1.12)" text-anchor="middle" font-size="24">0.3</text>
<text transform="translate(496.8,1047.9) scale(1,1.12)" text-anchor="middle" font-size="24">0.4</text>
<text transform="translate(595.0,1047.9) scale(1,1.12)" text-anchor="middle" font-size="24">0.5</text>
<text transform="translate(693.3,1047.9) scale(1,1.12)" text-anchor="middle" font-size="24">0.6</text>
<text transform="translate(791.5,1047.9) scale(1,1.12)" text-anchor="middle" font-size="24">0.7</text>
<text transform="translate(889.7,1047.9) scale(1,1.12)" text-anchor="middle" font-size="24">0.8</text>
<text x="496.8" y="1079.8" text-anchor="middle" font-size="25">Hydraulic gradient (<tspan font-style="italic">i</tspan>)</text>
<text transform="translate(36,823.8) rotate(-90)" text-anchor="middle" font-size="25.4">Seepage velocity (<tspan font-style="italic">v</tspan>) [cm/s]</text>
<text x="2" y="589.9" font-family="Liberation Sans, sans-serif" font-weight="bold" font-size="43">B</text>
<path d="M557.5,585.6H607.5" stroke="#000" stroke-width="2.7" stroke-linecap="round"/>
<circle cx="582.5" cy="585.6" r="3.70" fill="#000"/>
<text transform="translate(613.6,593.1) scale(1,1.05)" font-size="22">G</text>
<path d="M557.5,613.5H607.5" stroke="#ff0000" stroke-width="2.7" stroke-linecap="round"/>
<rect x="579.5" y="610.5" width="6.0" height="6.0" fill="#fff" stroke="#ff0000" stroke-width="0.9"/>
<text transform="translate(613.6,621.0) scale(1,1.05)" font-size="22">Cq-0.2</text>
<path d="M675.8,613.5H725.8000000000001" stroke="#7f7f7f" stroke-width="2.7" stroke-linecap="round"/>
<rect x="698.2" y="610.9" width="5.3" height="5.3" fill="#7f7f7f" stroke="#7f7f7f" stroke-width="0.9"/>
<text transform="translate(732.4,621.0) scale(1,1.05)" font-size="22">Ch-0.2</text>
<path d="M795.0,613.5H844" stroke="#ff7200" stroke-width="2.9" stroke-dasharray="2.6 6.4" stroke-linecap="round"/>
<rect x="815.8" y="610.5" width="6.0" height="6.0" fill="#fff" stroke="#ff7200" stroke-width="0.9"/>
<text transform="translate(850.2,621.0) scale(1,1.05)" font-size="22">Ca-0.2</text>
<path d="M557.5,641.4H607.5" stroke="#ff0000" stroke-width="2.7" stroke-linecap="round"/>
<path d="M582.5,636.9L587.0,644.6H578.0Z" fill="#fff" stroke="#ff0000" stroke-width="0.9"/>
<text transform="translate(613.6,648.9) scale(1,1.05)" font-size="22">Cq-0.4</text>
<path d="M675.8,641.4H725.8000000000001" stroke="#7f7f7f" stroke-width="2.7" stroke-linecap="round"/>
<path d="M700.8,636.9L705.3,644.6H696.3Z" fill="#7f7f7f" stroke="#7f7f7f" stroke-width="0.9"/>
<text transform="translate(732.4,648.9) scale(1,1.05)" font-size="22">Ch-0.4</text>
<path d="M795.0,641.4H844" stroke="#ff7200" stroke-width="2.9" stroke-dasharray="2.6 6.4" stroke-linecap="round"/>
<path d="M818.8,636.9L823.2,644.6H814.3Z" fill="#fff" stroke="#ff7200" stroke-width="0.9"/>
<text transform="translate(850.2,648.9) scale(1,1.05)" font-size="22">Ca-0.4</text>
<path d="M557.5,669.3H607.5" stroke="#ff0000" stroke-width="2.7" stroke-linecap="round"/>
<path d="M582.5,664.6L587.1,669.3L582.5,674.0L577.9,669.3Z" fill="#fff" stroke="#ff0000" stroke-width="0.9"/>
<text transform="translate(613.6,676.8) scale(1,1.05)" font-size="22">Cq-0.6</text>
<path d="M675.8,669.3H725.8000000000001" stroke="#7f7f7f" stroke-width="2.7" stroke-linecap="round"/>
<path d="M700.8,664.6L705.0,669.3L700.8,674.0L696.6,669.3Z" fill="#7f7f7f" stroke="#7f7f7f" stroke-width="0.9"/>
<text transform="translate(732.4,676.8) scale(1,1.05)" font-size="22">Ch-0.6</text>
<path d="M795.0,669.3H844" stroke="#ff7200" stroke-width="2.9" stroke-dasharray="2.6 6.4" stroke-linecap="round"/>
<path d="M818.8,664.6L823.3,669.3L818.8,674.0L814.2,669.3Z" fill="#fff" stroke="#ff7200" stroke-width="0.9"/>
<text transform="translate(850.2,676.8) scale(1,1.05)" font-size="22">Ca-0.6</text>
<path d="M104.0,1014.3L114.2,1006.9L125.8,998.8L138.9,990.5L150.3,981.1L161.9,973.0L177.0,964.9L188.2,956.6L202.2,949.6L213.1,941.9L224.3,935.1L235.2,926.4L246.2,917.6L258.6,908.4L269.6,899.0L279.4,884.4L288.0,873.5L300.1,860.5L307.2,852.3L315.8,847.8L325.1,838.2L334.4,814.3L340.0,801.0L353.0,787.2L361.5,774.2L370.0,767.8L379.2,749.1L393.0,733.3L398.4,717.5L405.0,706.4L414.2,685.8" fill="none" stroke="#000" stroke-width="2.6" stroke-linejoin="round"/>
<circle cx="114.2" cy="1006.9" r="3.89" fill="#000"/>
<circle cx="125.8" cy="998.8" r="3.89" fill="#000"/>
<circle cx="138.9" cy="990.5" r="3.89" fill="#000"/>
<circle cx="150.3" cy="981.1" r="3.89" fill="#000"/>
<circle cx="161.9" cy="973.0" r="3.89" fill="#000"/>
<circle cx="177.0" cy="964.9" r="3.89" fill="#000"/>
<circle cx="188.2" cy="956.6" r="3.89" fill="#000"/>
<circle cx="202.2" cy="949.6" r="3.89" fill="#000"/>
<circle cx="213.1" cy="941.9" r="3.89" fill="#000"/>
<circle cx="224.3" cy="935.1" r="3.89" fill="#000"/>
<circle cx="235.2" cy="926.4" r="3.89" fill="#000"/>
<circle cx="246.2" cy="917.6" r="3.89" fill="#000"/>
<circle cx="258.6" cy="908.4" r="3.89" fill="#000"/>
<circle cx="269.6" cy="899.0" r="3.89" fill="#000"/>
<circle cx="279.4" cy="884.4" r="3.89" fill="#000"/>
<circle cx="288.0" cy="873.5" r="3.89" fill="#000"/>
<circle cx="300.1" cy="860.5" r="3.89" fill="#000"/>
<circle cx="307.2" cy="852.3" r="3.89" fill="#000"/>
<circle cx="315.8" cy="847.8" r="3.89" fill="#000"/>
<circle cx="325.1" cy="838.2" r="3.89" fill="#000"/>
<circle cx="334.4" cy="814.3" r="3.89" fill="#000"/>
<circle cx="340.0" cy="801.0" r="3.89" fill="#000"/>
<circle cx="353.0" cy="787.2" r="3.89" fill="#000"/>
<circle cx="361.5" cy="774.2" r="3.89" fill="#000"/>
<circle cx="370.0" cy="767.8" r="3.89" fill="#000"/>
<circle cx="379.2" cy="749.1" r="3.89" fill="#000"/>
<circle cx="393.0" cy="733.3" r="3.89" fill="#000"/>
<circle cx="398.4" cy="717.5" r="3.89" fill="#000"/>
<circle cx="405.0" cy="706.4" r="3.89" fill="#000"/>
<circle cx="414.2" cy="685.8" r="3.89" fill="#000"/>
<path d="M104.0,1014.3L116.4,1006.9L130.6,999.3L143.1,993.1L156.9,986.6L175.5,975.6L190.8,966.0L205.7,960.5L218.8,953.7L232.4,947.4L247.7,938.6L260.8,931.9L284.5,919.4L302.4,905.1L321.4,892.8L344.3,881.5L364.3,873.5L372.6,868.3L383.1,850.4L396.3,833.5L403.9,821.3L415.3,802.7L426.5,788.0L432.8,776.4L442.2,765.0L453.8,746.0L464.1,733.3L472.2,722.8L478.8,716.5L484.4,706.6L489.3,697.6" fill="none" stroke="#ff0000" stroke-width="2.6" stroke-linejoin="round"/>
<rect x="113.0" y="1003.5" width="6.8" height="6.8" fill="#fff" stroke="#ff0000" stroke-width="0.9"/>
<rect x="127.2" y="995.9" width="6.8" height="6.8" fill="#fff" stroke="#ff0000" stroke-width="0.9"/>
<rect x="139.7" y="989.7" width="6.8" height="6.8" fill="#fff" stroke="#ff0000" stroke-width="0.9"/>
<rect x="153.5" y="983.2" width="6.8" height="6.8" fill="#fff" stroke="#ff0000" stroke-width="0.9"/>
<rect x="172.1" y="972.2" width="6.8" height="6.8" fill="#fff" stroke="#ff0000" stroke-width="0.9"/>
<rect x="187.4" y="962.6" width="6.8" height="6.8" fill="#fff" stroke="#ff0000" stroke-width="0.9"/>
<rect x="202.3" y="957.1" width="6.8" height="6.8" fill="#fff" stroke="#ff0000" stroke-width="0.9"/>
<rect x="215.4" y="950.3" width="6.8" height="6.8" fill="#fff" stroke="#ff0000" stroke-width="0.9"/>
<rect x="229.0" y="944.0" width="6.8" height="6.8" fill="#fff" stroke="#ff0000" stroke-width="0.9"/>
<rect x="244.3" y="935.2" width="6.8" height="6.8" fill="#fff" stroke="#ff0000" stroke-width="0.9"/>
<rect x="257.4" y="928.5" width="6.8" height="6.8" fill="#fff" stroke="#ff0000" stroke-width="0.9"/>
<rect x="281.1" y="916.0" width="6.8" height="6.8" fill="#fff" stroke="#ff0000" stroke-width="0.9"/>
<rect x="299.0" y="901.7" width="6.8" height="6.8" fill="#fff" stroke="#ff0000" stroke-width="0.9"/>
<rect x="318.0" y="889.4" width="6.8" height="6.8" fill="#fff" stroke="#ff0000" stroke-width="0.9"/>
<rect x="340.9" y="878.1" width="6.8" height="6.8" fill="#fff" stroke="#ff0000" stroke-width="0.9"/>
<rect x="360.9" y="870.1" width="6.8" height="6.8" fill="#fff" stroke="#ff0000" stroke-width="0.9"/>
<rect x="369.2" y="864.9" width="6.8" height="6.8" fill="#fff" stroke="#ff0000" stroke-width="0.9"/>
<rect x="379.7" y="847.0" width="6.8" height="6.8" fill="#fff" stroke="#ff0000" stroke-width="0.9"/>
<rect x="392.9" y="830.1" width="6.8" height="6.8" fill="#fff" stroke="#ff0000" stroke-width="0.9"/>
<rect x="400.5" y="817.9" width="6.8" height="6.8" fill="#fff" stroke="#ff0000" stroke-width="0.9"/>
<rect x="411.9" y="799.3" width="6.8" height="6.8" fill="#fff" stroke="#ff0000" stroke-width="0.9"/>
<rect x="423.1" y="784.6" width="6.8" height="6.8" fill="#fff" stroke="#ff0000" stroke-width="0.9"/>
<rect x="429.4" y="773.0" width="6.8" height="6.8" fill="#fff" stroke="#ff0000" stroke-width="0.9"/>
<rect x="438.8" y="761.6" width="6.8" height="6.8" fill="#fff" stroke="#ff0000" stroke-width="0.9"/>
<rect x="450.4" y="742.6" width="6.8" height="6.8" fill="#fff" stroke="#ff0000" stroke-width="0.9"/>
<rect x="460.7" y="729.9" width="6.8" height="6.8" fill="#fff" stroke="#ff0000" stroke-width="0.9"/>
<rect x="468.8" y="719.4" width="6.8" height="6.8" fill="#fff" stroke="#ff0000" stroke-width="0.9"/>
<rect x="475.4" y="713.1" width="6.8" height="6.8" fill="#fff" stroke="#ff0000" stroke-width="0.9"/>
<rect x="481.0" y="703.2" width="6.8" height="6.8" fill="#fff" stroke="#ff0000" stroke-width="0.9"/>
<rect x="485.9" y="694.2" width="6.8" height="6.8" fill="#fff" stroke="#ff0000" stroke-width="0.9"/>
<path d="M104.0,1014.3L117.0,1008.5L130.0,1003.0L143.0,997.5L155.0,992.0L166.7,987.2L178.0,982.0L189.7,977.4L210.9,965.3L228.7,959.9L251.0,946.7L265.6,940.2L284.5,932.5L296.9,926.0L318.3,917.3L337.6,902.9L368.8,888.2L390.9,879.0L407.1,873.8L414.2,860.6L431.0,849.9L439.3,839.2L451.4,822.6L459.3,798.3L468.9,795.7L477.9,779.7L487.5,762.2L494.1,744.9L498.4,735.9L500.9,722.8L509.4,702.7" fill="none" stroke="#ff0000" stroke-width="2.6" stroke-linejoin="round"/>
<path d="M117.0,1003.8L121.7,1011.9H112.3Z" fill="#fff" stroke="#ff0000" stroke-width="0.9"/>
<path d="M130.0,998.3L134.7,1006.4H125.3Z" fill="#fff" stroke="#ff0000" stroke-width="0.9"/>
<path d="M143.0,992.8L147.7,1000.9H138.3Z" fill="#fff" stroke="#ff0000" stroke-width="0.9"/>
<path d="M155.0,987.3L159.7,995.4H150.3Z" fill="#fff" stroke="#ff0000" stroke-width="0.9"/>
<path d="M166.7,982.5L171.4,990.6H162.0Z" fill="#fff" stroke="#ff0000" stroke-width="0.9"/>
<path d="M178.0,977.3L182.7,985.4H173.3Z" fill="#fff" stroke="#ff0000" stroke-width="0.9"/>
<path d="M189.7,972.7L194.4,980.8H185.0Z" fill="#fff" stroke="#ff0000" stroke-width="0.9"/>
<path d="M210.9,960.6L215.6,968.7H206.2Z" fill="#fff" stroke="#ff0000" stroke-width="0.9"/>
<path d="M228.7,955.2L233.4,963.3H224.0Z" fill="#fff" stroke="#ff0000" stroke-width="0.9"/>
<path d="M251.0,942.0L255.7,950.1H246.3Z" fill="#fff" stroke="#ff0000" stroke-width="0.9"/>
<path d="M265.6,935.5L270.3,943.6H260.9Z" fill="#fff" stroke="#ff0000" stroke-width="0.9"/>
<path d="M284.5,927.8L289.2,935.9H279.8Z" fill="#fff" stroke="#ff0000" stroke-width="0.9"/>
<path d="M296.9,921.3L301.6,929.4H292.2Z" fill="#fff" stroke="#ff0000" stroke-width="0.9"/>
<path d="M318.3,912.6L323.0,920.7H313.6Z" fill="#fff" stroke="#ff0000" stroke-width="0.9"/>
<path d="M337.6,898.2L342.3,906.3H332.9Z" fill="#fff" stroke="#ff0000" stroke-width="0.9"/>
<path d="M368.8,883.5L373.5,891.6H364.1Z" fill="#fff" stroke="#ff0000" stroke-width="0.9"/>
<path d="M390.9,874.3L395.6,882.4H386.2Z" fill="#fff" stroke="#ff0000" stroke-width="0.9"/>
<path d="M407.1,869.1L411.8,877.2H402.4Z" fill="#fff" stroke="#ff0000" stroke-width="0.9"/>
<path d="M414.2,855.9L418.9,864.0H409.5Z" fill="#fff" stroke="#ff0000" stroke-width="0.9"/>
<path d="M431.0,845.2L435.7,853.3H426.3Z" fill="#fff" stroke="#ff0000" stroke-width="0.9"/>
<path d="M439.3,834.5L444.0,842.6H434.6Z" fill="#fff" stroke="#ff0000" stroke-width="0.9"/>
<path d="M451.4,817.9L456.1,826.0H446.7Z" fill="#fff" stroke="#ff0000" stroke-width="0.9"/>
<path d="M459.3,793.6L464.0,801.7H454.6Z" fill="#fff" stroke="#ff0000" stroke-width="0.9"/>
<path d="M468.9,791.0L473.6,799.1H464.2Z" fill="#fff" stroke="#ff0000" stroke-width="0.9"/>
<path d="M477.9,775.0L482.6,783.1H473.2Z" fill="#fff" stroke="#ff0000" stroke-width="0.9"/>
<path d="M487.5,757.5L492.2,765.6H482.8Z" fill="#fff" stroke="#ff0000" stroke-width="0.9"/>
<path d="M494.1,740.2L498.8,748.3H489.4Z" fill="#fff" stroke="#ff0000" stroke-width="0.9"/>
<path d="M498.4,731.2L503.1,739.3H493.7Z" fill="#fff" stroke="#ff0000" stroke-width="0.9"/>
<path d="M500.9,718.1L505.6,726.2H496.2Z" fill="#fff" stroke="#ff0000" stroke-width="0.9"/>
<path d="M509.4,698.0L514.1,706.1H504.7Z" fill="#fff" stroke="#ff0000" stroke-width="0.9"/>
<path d="M104.0,1014.3L120.0,1008.0L136.1,1001.5L154.0,993.5L174.4,982.8L191.9,975.2L208.3,968.0L226.9,961.0L243.3,954.0L257.1,948.3L270.7,944.6L295.8,928.6L303.0,927.1L327.5,916.7L352.9,898.0L369.8,886.7L390.3,876.0L414.8,867.7L434.7,858.2L445.1,854.1L466.3,831.3L480.1,814.3L491.9,793.0L498.7,776.6L506.8,751.2L509.6,737.7L515.5,725.6L519.5,709.9L522.1,701.6L529.7,697.9" fill="none" stroke="#ff0000" stroke-width="2.6" stroke-linejoin="round"/>
<path d="M120.0,1003.1L124.8,1008.0L120.0,1012.9L115.2,1008.0Z" fill="#fff" stroke="#ff0000" stroke-width="0.9"/>
<path d="M136.1,996.6L140.9,1001.5L136.1,1006.4L131.3,1001.5Z" fill="#fff" stroke="#ff0000" stroke-width="0.9"/>
<path d="M154.0,988.6L158.8,993.5L154.0,998.4L149.2,993.5Z" fill="#fff" stroke="#ff0000" stroke-width="0.9"/>
<path d="M174.4,977.9L179.2,982.8L174.4,987.7L169.6,982.8Z" fill="#fff" stroke="#ff0000" stroke-width="0.9"/>
<path d="M191.9,970.3L196.7,975.2L191.9,980.1L187.1,975.2Z" fill="#fff" stroke="#ff0000" stroke-width="0.9"/>
<path d="M208.3,963.1L213.1,968.0L208.3,972.9L203.5,968.0Z" fill="#fff" stroke="#ff0000" stroke-width="0.9"/>
<path d="M226.9,956.1L231.7,961.0L226.9,965.9L222.1,961.0Z" fill="#fff" stroke="#ff0000" stroke-width="0.9"/>
<path d="M243.3,949.1L248.1,954.0L243.3,958.9L238.5,954.0Z" fill="#fff" stroke="#ff0000" stroke-width="0.9"/>
<path d="M257.1,943.4L261.9,948.3L257.1,953.2L252.3,948.3Z" fill="#fff" stroke="#ff0000" stroke-width="0.9"/>
<path d="M270.7,939.7L275.5,944.6L270.7,949.5L265.9,944.6Z" fill="#fff" stroke="#ff0000" stroke-width="0.9"/>
<path d="M295.8,923.7L300.6,928.6L295.8,933.5L291.0,928.6Z" fill="#fff" stroke="#ff0000" stroke-width="0.9"/>
<path d="M303.0,922.2L307.8,927.1L303.0,932.0L298.2,927.1Z" fill="#fff" stroke="#ff0000" stroke-width="0.9"/>
<path d="M327.5,911.8L332.3,916.7L327.5,921.6L322.7,916.7Z" fill="#fff" stroke="#ff0000" stroke-width="0.9"/>
<path d="M352.9,893.1L357.7,898.0L352.9,902.9L348.1,898.0Z" fill="#fff" stroke="#ff0000" stroke-width="0.9"/>
<path d="M369.8,881.8L374.6,886.7L369.8,891.6L365.0,886.7Z" fill="#fff" stroke="#ff0000" stroke-width="0.9"/>
<path d="M390.3,871.1L395.1,876.0L390.3,880.9L385.5,876.0Z" fill="#fff" stroke="#ff0000" stroke-width="0.9"/>
<path d="M414.8,862.8L419.6,867.7L414.8,872.6L410.0,867.7Z" fill="#fff" stroke="#ff0000" stroke-width="0.9"/>
<path d="M434.7,853.3L439.5,858.2L434.7,863.1L429.9,858.2Z" fill="#fff" stroke="#ff0000" stroke-width="0.9"/>
<path d="M445.1,849.2L449.9,854.1L445.1,859.0L440.3,854.1Z" fill="#fff" stroke="#ff0000" stroke-width="0.9"/>
<path d="M466.3,826.4L471.1,831.3L466.3,836.2L461.5,831.3Z" fill="#fff" stroke="#ff0000" stroke-width="0.9"/>
<path d="M480.1,809.4L484.9,814.3L480.1,819.2L475.3,814.3Z" fill="#fff" stroke="#ff0000" stroke-width="0.9"/>
<path d="M491.9,788.1L496.7,793.0L491.9,797.9L487.1,793.0Z" fill="#fff" stroke="#ff0000" stroke-width="0.9"/>
<path d="M498.7,771.7L503.5,776.6L498.7,781.5L493.9,776.6Z" fill="#fff" stroke="#ff0000" stroke-width="0.9"/>
<path d="M506.8,746.3L511.6,751.2L506.8,756.1L502.0,751.2Z" fill="#fff" stroke="#ff0000" stroke-width="0.9"/>
<path d="M509.6,732.8L514.4,737.7L509.6,742.6L504.8,737.7Z" fill="#fff" stroke="#ff0000" stroke-width="0.9"/>
<path d="M515.5,720.7L520.3,725.6L515.5,730.5L510.7,725.6Z" fill="#fff" stroke="#ff0000" stroke-width="0.9"/>
<path d="M519.5,705.0L524.3,709.9L519.5,714.8L514.7,709.9Z" fill="#fff" stroke="#ff0000" stroke-width="0.9"/>
<path d="M522.1,696.7L526.9,701.6L522.1,706.5L517.3,701.6Z" fill="#fff" stroke="#ff0000" stroke-width="0.9"/>
<path d="M529.7,693.0L534.5,697.9L529.7,702.8L524.9,697.9Z" fill="#fff" stroke="#ff0000" stroke-width="0.9"/>
<path d="M104.0,1014.3L118.0,1009.0L139.4,999.3L156.9,993.3L181.0,981.1L198.5,974.5L221.9,966.0L249.5,955.5L266.7,948.5L292.5,938.3L313.1,929.0L339.7,919.5L362.7,904.4L389.7,891.3L413.3,879.9L434.8,869.9L458.4,866.0L484.5,861.1L509.7,848.8L528.4,840.6L541.7,834.6L556.7,823.6L564.6,808.5L582.7,788.9L594.7,771.1L609.3,764.4L614.8,752.0L622.3,736.9L627.6,725.4L635.9,706.7" fill="none" stroke="#7f7f7f" stroke-width="2.6" stroke-linejoin="round"/>
<rect x="115.0" y="1006.0" width="6.0" height="6.0" fill="#7f7f7f" stroke="#7f7f7f" stroke-width="0.9"/>
<rect x="136.4" y="996.3" width="6.0" height="6.0" fill="#7f7f7f" stroke="#7f7f7f" stroke-width="0.9"/>
<rect x="153.9" y="990.3" width="6.0" height="6.0" fill="#7f7f7f" stroke="#7f7f7f" stroke-width="0.9"/>
<rect x="178.0" y="978.1" width="6.0" height="6.0" fill="#7f7f7f" stroke="#7f7f7f" stroke-width="0.9"/>
<rect x="195.5" y="971.5" width="6.0" height="6.0" fill="#7f7f7f" stroke="#7f7f7f" stroke-width="0.9"/>
<rect x="218.9" y="963.0" width="6.0" height="6.0" fill="#7f7f7f" stroke="#7f7f7f" stroke-width="0.9"/>
<rect x="246.5" y="952.5" width="6.0" height="6.0" fill="#7f7f7f" stroke="#7f7f7f" stroke-width="0.9"/>
<rect x="263.7" y="945.5" width="6.0" height="6.0" fill="#7f7f7f" stroke="#7f7f7f" stroke-width="0.9"/>
<rect x="289.5" y="935.3" width="6.0" height="6.0" fill="#7f7f7f" stroke="#7f7f7f" stroke-width="0.9"/>
<rect x="310.1" y="926.0" width="6.0" height="6.0" fill="#7f7f7f" stroke="#7f7f7f" stroke-width="0.9"/>
<rect x="336.7" y="916.5" width="6.0" height="6.0" fill="#7f7f7f" stroke="#7f7f7f" stroke-width="0.9"/>
<rect x="359.7" y="901.4" width="6.0" height="6.0" fill="#7f7f7f" stroke="#7f7f7f" stroke-width="0.9"/>
<rect x="386.7" y="888.3" width="6.0" height="6.0" fill="#7f7f7f" stroke="#7f7f7f" stroke-width="0.9"/>
<rect x="410.3" y="876.9" width="6.0" height="6.0" fill="#7f7f7f" stroke="#7f7f7f" stroke-width="0.9"/>
<rect x="431.8" y="866.9" width="6.0" height="6.0" fill="#7f7f7f" stroke="#7f7f7f" stroke-width="0.9"/>
<rect x="455.4" y="863.0" width="6.0" height="6.0" fill="#7f7f7f" stroke="#7f7f7f" stroke-width="0.9"/>
<rect x="481.5" y="858.1" width="6.0" height="6.0" fill="#7f7f7f" stroke="#7f7f7f" stroke-width="0.9"/>
<rect x="506.7" y="845.8" width="6.0" height="6.0" fill="#7f7f7f" stroke="#7f7f7f" stroke-width="0.9"/>
<rect x="525.4" y="837.6" width="6.0" height="6.0" fill="#7f7f7f" stroke="#7f7f7f" stroke-width="0.9"/>
<rect x="538.7" y="831.6" width="6.0" height="6.0" fill="#7f7f7f" stroke="#7f7f7f" stroke-width="0.9"/>
<rect x="553.7" y="820.6" width="6.0" height="6.0" fill="#7f7f7f" stroke="#7f7f7f" stroke-width="0.9"/>
<rect x="561.6" y="805.5" width="6.0" height="6.0" fill="#7f7f7f" stroke="#7f7f7f" stroke-width="0.9"/>
<rect x="579.7" y="785.9" width="6.0" height="6.0" fill="#7f7f7f" stroke="#7f7f7f" stroke-width="0.9"/>
<rect x="591.7" y="768.1" width="6.0" height="6.0" fill="#7f7f7f" stroke="#7f7f7f" stroke-width="0.9"/>
<rect x="606.3" y="761.4" width="6.0" height="6.0" fill="#7f7f7f" stroke="#7f7f7f" stroke-width="0.9"/>
<rect x="611.8" y="749.0" width="6.0" height="6.0" fill="#7f7f7f" stroke="#7f7f7f" stroke-width="0.9"/>
<rect x="619.3" y="733.9" width="6.0" height="6.0" fill="#7f7f7f" stroke="#7f7f7f" stroke-width="0.9"/>
<rect x="624.6" y="722.4" width="6.0" height="6.0" fill="#7f7f7f" stroke="#7f7f7f" stroke-width="0.9"/>
<rect x="632.9" y="703.7" width="6.0" height="6.0" fill="#7f7f7f" stroke="#7f7f7f" stroke-width="0.9"/>
<path d="M104.0,1014.3L122.0,1010.0L140.0,1003.5L160.0,995.5L183.7,983.6L200.0,979.5L216.0,975.6L234.6,969.3L252.3,963.6L277.0,957.1L302.1,945.8L333.5,936.6L369.2,926.6L375.1,925.5L392.9,907.2L417.7,895.0L436.5,884.9L465.5,873.4L495.9,866.0L520.2,859.1L541.3,843.8L556.0,837.4L576.0,828.8L596.7,820.0L607.9,805.2L622.3,783.5L635.9,763.8L653.6,745.1L673.9,731.4L683.4,715.6L689.7,705.8" fill="none" stroke="#7f7f7f" stroke-width="2.6" stroke-linejoin="round"/>
<path d="M122.0,1005.3L126.7,1013.4H117.3Z" fill="#7f7f7f" stroke="#7f7f7f" stroke-width="0.9"/>
<path d="M140.0,998.8L144.7,1006.9H135.3Z" fill="#7f7f7f" stroke="#7f7f7f" stroke-width="0.9"/>
<path d="M160.0,990.8L164.7,998.9H155.3Z" fill="#7f7f7f" stroke="#7f7f7f" stroke-width="0.9"/>
<path d="M183.7,978.9L188.4,987.0H179.0Z" fill="#7f7f7f" stroke="#7f7f7f" stroke-width="0.9"/>
<path d="M200.0,974.8L204.7,982.9H195.3Z" fill="#7f7f7f" stroke="#7f7f7f" stroke-width="0.9"/>
<path d="M216.0,970.9L220.7,979.0H211.3Z" fill="#7f7f7f" stroke="#7f7f7f" stroke-width="0.9"/>
<path d="M234.6,964.6L239.3,972.7H229.9Z" fill="#7f7f7f" stroke="#7f7f7f" stroke-width="0.9"/>
<path d="M252.3,958.9L257.0,967.0H247.6Z" fill="#7f7f7f" stroke="#7f7f7f" stroke-width="0.9"/>
<path d="M277.0,952.4L281.7,960.5H272.3Z" fill="#7f7f7f" stroke="#7f7f7f" stroke-width="0.9"/>
<path d="M302.1,941.1L306.8,949.2H297.4Z" fill="#7f7f7f" stroke="#7f7f7f" stroke-width="0.9"/>
<path d="M333.5,931.9L338.2,940.0H328.8Z" fill="#7f7f7f" stroke="#7f7f7f" stroke-width="0.9"/>
<path d="M369.2,921.9L373.9,930.0H364.5Z" fill="#7f7f7f" stroke="#7f7f7f" stroke-width="0.9"/>
<path d="M375.1,920.8L379.8,928.9H370.4Z" fill="#7f7f7f" stroke="#7f7f7f" stroke-width="0.9"/>
<path d="M392.9,902.5L397.6,910.6H388.2Z" fill="#7f7f7f" stroke="#7f7f7f" stroke-width="0.9"/>
<path d="M417.7,890.3L422.4,898.4H413.0Z" fill="#7f7f7f" stroke="#7f7f7f" stroke-width="0.9"/>
<path d="M436.5,880.2L441.2,888.3H431.8Z" fill="#7f7f7f" stroke="#7f7f7f" stroke-width="0.9"/>
<path d="M465.5,868.7L470.2,876.8H460.8Z" fill="#7f7f7f" stroke="#7f7f7f" stroke-width="0.9"/>
<path d="M495.9,861.3L500.6,869.4H491.2Z" fill="#7f7f7f" stroke="#7f7f7f" stroke-width="0.9"/>
<path d="M520.2,854.4L524.9,862.5H515.5Z" fill="#7f7f7f" stroke="#7f7f7f" stroke-width="0.9"/>
<path d="M541.3,839.1L546.0,847.2H536.6Z" fill="#7f7f7f" stroke="#7f7f7f" stroke-width="0.9"/>
<path d="M556.0,832.7L560.7,840.8H551.3Z" fill="#7f7f7f" stroke="#7f7f7f" stroke-width="0.9"/>
<path d="M576.0,824.1L580.7,832.2H571.3Z" fill="#7f7f7f" stroke="#7f7f7f" stroke-width="0.9"/>
<path d="M596.7,815.3L601.4,823.4H592.0Z" fill="#7f7f7f" stroke="#7f7f7f" stroke-width="0.9"/>
<path d="M607.9,800.5L612.6,808.6H603.2Z" fill="#7f7f7f" stroke="#7f7f7f" stroke-width="0.9"/>
<path d="M622.3,778.8L627.0,786.9H617.6Z" fill="#7f7f7f" stroke="#7f7f7f" stroke-width="0.9"/>
<path d="M635.9,759.1L640.6,767.2H631.2Z" fill="#7f7f7f" stroke="#7f7f7f" stroke-width="0.9"/>
<path d="M653.6,740.4L658.3,748.5H648.9Z" fill="#7f7f7f" stroke="#7f7f7f" stroke-width="0.9"/>
<path d="M673.9,726.7L678.6,734.8H669.2Z" fill="#7f7f7f" stroke="#7f7f7f" stroke-width="0.9"/>
<path d="M683.4,710.9L688.1,719.0H678.7Z" fill="#7f7f7f" stroke="#7f7f7f" stroke-width="0.9"/>
<path d="M689.7,701.1L694.4,709.2H685.0Z" fill="#7f7f7f" stroke="#7f7f7f" stroke-width="0.9"/>
<path d="M104.0,1014.3L124.0,1009.0L146.0,1002.0L170.0,993.0L196.0,984.0L222.0,974.0L253.2,967.5L276.1,961.0L292.6,954.4L318.3,945.8L344.3,937.2L369.5,927.4L392.7,918.8L411.1,912.1L437.8,895.0L454.6,886.7L479.6,877.0L509.0,869.0L533.9,863.1L565.0,853.8L589.8,846.2L607.9,838.1L631.2,824.3L642.0,811.7L655.8,797.3L667.6,779.6L692.0,765.2L701.5,742.8" fill="none" stroke="#7f7f7f" stroke-width="2.6" stroke-linejoin="round"/>
<path d="M124.0,1004.1L128.4,1009.0L124.0,1013.9L119.6,1009.0Z" fill="#7f7f7f" stroke="#7f7f7f" stroke-width="0.9"/>
<path d="M146.0,997.1L150.4,1002.0L146.0,1006.9L141.6,1002.0Z" fill="#7f7f7f" stroke="#7f7f7f" stroke-width="0.9"/>
<path d="M170.0,988.1L174.4,993.0L170.0,997.9L165.6,993.0Z" fill="#7f7f7f" stroke="#7f7f7f" stroke-width="0.9"/>
<path d="M196.0,979.1L200.4,984.0L196.0,988.9L191.6,984.0Z" fill="#7f7f7f" stroke="#7f7f7f" stroke-width="0.9"/>
<path d="M222.0,969.1L226.4,974.0L222.0,978.9L217.6,974.0Z" fill="#7f7f7f" stroke="#7f7f7f" stroke-width="0.9"/>
<path d="M253.2,962.6L257.6,967.5L253.2,972.4L248.8,967.5Z" fill="#7f7f7f" stroke="#7f7f7f" stroke-width="0.9"/>
<path d="M276.1,956.1L280.5,961.0L276.1,965.9L271.7,961.0Z" fill="#7f7f7f" stroke="#7f7f7f" stroke-width="0.9"/>
<path d="M292.6,949.5L297.0,954.4L292.6,959.3L288.2,954.4Z" fill="#7f7f7f" stroke="#7f7f7f" stroke-width="0.9"/>
<path d="M318.3,940.9L322.7,945.8L318.3,950.7L313.9,945.8Z" fill="#7f7f7f" stroke="#7f7f7f" stroke-width="0.9"/>
<path d="M344.3,932.3L348.7,937.2L344.3,942.1L339.9,937.2Z" fill="#7f7f7f" stroke="#7f7f7f" stroke-width="0.9"/>
<path d="M369.5,922.5L373.9,927.4L369.5,932.3L365.1,927.4Z" fill="#7f7f7f" stroke="#7f7f7f" stroke-width="0.9"/>
<path d="M392.7,913.9L397.1,918.8L392.7,923.7L388.3,918.8Z" fill="#7f7f7f" stroke="#7f7f7f" stroke-width="0.9"/>
<path d="M411.1,907.2L415.5,912.1L411.1,917.0L406.7,912.1Z" fill="#7f7f7f" stroke="#7f7f7f" stroke-width="0.9"/>
<path d="M437.8,890.1L442.2,895.0L437.8,899.9L433.4,895.0Z" fill="#7f7f7f" stroke="#7f7f7f" stroke-width="0.9"/>
<path d="M454.6,881.8L459.0,886.7L454.6,891.6L450.2,886.7Z" fill="#7f7f7f" stroke="#7f7f7f" stroke-width="0.9"/>
<path d="M479.6,872.1L484.0,877.0L479.6,881.9L475.2,877.0Z" fill="#7f7f7f" stroke="#7f7f7f" stroke-width="0.9"/>
<path d="M509.0,864.1L513.4,869.0L509.0,873.9L504.6,869.0Z" fill="#7f7f7f" stroke="#7f7f7f" stroke-width="0.9"/>
<path d="M533.9,858.2L538.3,863.1L533.9,868.0L529.5,863.1Z" fill="#7f7f7f" stroke="#7f7f7f" stroke-width="0.9"/>
<path d="M565.0,848.9L569.4,853.8L565.0,858.7L560.6,853.8Z" fill="#7f7f7f" stroke="#7f7f7f" stroke-width="0.9"/>
<path d="M589.8,841.3L594.2,846.2L589.8,851.1L585.4,846.2Z" fill="#7f7f7f" stroke="#7f7f7f" stroke-width="0.9"/>
<path d="M607.9,833.2L612.3,838.1L607.9,843.0L603.5,838.1Z" fill="#7f7f7f" stroke="#7f7f7f" stroke-width="0.9"/>
<path d="M631.2,819.4L635.6,824.3L631.2,829.2L626.8,824.3Z" fill="#7f7f7f" stroke="#7f7f7f" stroke-width="0.9"/>
<path d="M642.0,806.8L646.4,811.7L642.0,816.6L637.6,811.7Z" fill="#7f7f7f" stroke="#7f7f7f" stroke-width="0.9"/>
<path d="M655.8,792.4L660.2,797.3L655.8,802.2L651.4,797.3Z" fill="#7f7f7f" stroke="#7f7f7f" stroke-width="0.9"/>
<path d="M667.6,774.7L672.0,779.6L667.6,784.5L663.2,779.6Z" fill="#7f7f7f" stroke="#7f7f7f" stroke-width="0.9"/>
<path d="M692.0,760.3L696.4,765.2L692.0,770.1L687.6,765.2Z" fill="#7f7f7f" stroke="#7f7f7f" stroke-width="0.9"/>
<path d="M701.5,737.9L705.9,742.8L701.5,747.7L697.1,742.8Z" fill="#7f7f7f" stroke="#7f7f7f" stroke-width="0.9"/>
<path d="M104.0,1014.3L120.0,1010.0L140.0,1005.0L160.0,999.0L180.0,993.0L200.7,987.2L220.0,982.0L236.8,976.3L261.9,969.3L288.5,962.2L310.6,955.6L339.7,945.8L368.8,937.2L404.1,930.5L437.2,923.4L463.8,917.3L497.5,898.9L525.1,887.3L555.1,878.1L596.7,863.7L621.3,855.4L656.2,843.2L689.7,830.8L713.2,825.3L732.8,809.3L746.6,791.3L758.4,775.3L773.3,755.0L786.0,739.2L799.6,728.3" fill="none" stroke="#ff7200" stroke-width="2.9" stroke-dasharray="2.6 6.4" stroke-linecap="round" stroke-linejoin="round"/>
<rect x="116.6" y="1006.6" width="6.8" height="6.8" fill="#fff" stroke="#ff7200" stroke-width="0.9"/>
<rect x="136.6" y="1001.6" width="6.8" height="6.8" fill="#fff" stroke="#ff7200" stroke-width="0.9"/>
<rect x="156.6" y="995.6" width="6.8" height="6.8" fill="#fff" stroke="#ff7200" stroke-width="0.9"/>
<rect x="176.6" y="989.6" width="6.8" height="6.8" fill="#fff" stroke="#ff7200" stroke-width="0.9"/>
<rect x="197.3" y="983.8" width="6.8" height="6.8" fill="#fff" stroke="#ff7200" stroke-width="0.9"/>
<rect x="216.6" y="978.6" width="6.8" height="6.8" fill="#fff" stroke="#ff7200" stroke-width="0.9"/>
<rect x="233.4" y="972.9" width="6.8" height="6.8" fill="#fff" stroke="#ff7200" stroke-width="0.9"/>
<rect x="258.5" y="965.9" width="6.8" height="6.8" fill="#fff" stroke="#ff7200" stroke-width="0.9"/>
<rect x="285.1" y="958.8" width="6.8" height="6.8" fill="#fff" stroke="#ff7200" stroke-width="0.9"/>
<rect x="307.2" y="952.2" width="6.8" height="6.8" fill="#fff" stroke="#ff7200" stroke-width="0.9"/>
<rect x="336.3" y="942.4" width="6.8" height="6.8" fill="#fff" stroke="#ff7200" stroke-width="0.9"/>
<rect x="365.4" y="933.8" width="6.8" height="6.8" fill="#fff" stroke="#ff7200" stroke-width="0.9"/>
<rect x="400.7" y="927.1" width="6.8" height="6.8" fill="#fff" stroke="#ff7200" stroke-width="0.9"/>
<rect x="433.8" y="920.0" width="6.8" height="6.8" fill="#fff" stroke="#ff7200" stroke-width="0.9"/>
<rect x="460.4" y="913.9" width="6.8" height="6.8" fill="#fff" stroke="#ff7200" stroke-width="0.9"/>
<rect x="494.1" y="895.5" width="6.8" height="6.8" fill="#fff" stroke="#ff7200" stroke-width="0.9"/>
<rect x="521.7" y="883.9" width="6.8" height="6.8" fill="#fff" stroke="#ff7200" stroke-width="0.9"/>
<rect x="551.7" y="874.7" width="6.8" height="6.8" fill="#fff" stroke="#ff7200" stroke-width="0.9"/>
<rect x="593.3" y="860.3" width="6.8" height="6.8" fill="#fff" stroke="#ff7200" stroke-width="0.9"/>
<rect x="617.9" y="852.0" width="6.8" height="6.8" fill="#fff" stroke="#ff7200" stroke-width="0.9"/>
<rect x="652.8" y="839.8" width="6.8" height="6.8" fill="#fff" stroke="#ff7200" stroke-width="0.9"/>
<rect x="686.3" y="827.4" width="6.8" height="6.8" fill="#fff" stroke="#ff7200" stroke-width="0.9"/>
<rect x="709.8" y="821.9" width="6.8" height="6.8" fill="#fff" stroke="#ff7200" stroke-width="0.9"/>
<rect x="729.4" y="805.9" width="6.8" height="6.8" fill="#fff" stroke="#ff7200" stroke-width="0.9"/>
<rect x="743.2" y="787.9" width="6.8" height="6.8" fill="#fff" stroke="#ff7200" stroke-width="0.9"/>
<rect x="755.0" y="771.9" width="6.8" height="6.8" fill="#fff" stroke="#ff7200" stroke-width="0.9"/>
<rect x="769.9" y="751.6" width="6.8" height="6.8" fill="#fff" stroke="#ff7200" stroke-width="0.9"/>
<rect x="782.6" y="735.8" width="6.8" height="6.8" fill="#fff" stroke="#ff7200" stroke-width="0.9"/>
<rect x="796.2" y="724.9" width="6.8" height="6.8" fill="#fff" stroke="#ff7200" stroke-width="0.9"/>
<path d="M104.0,1014.3L124.0,1009.0L146.0,1003.5L163.0,998.0L183.0,993.9L200.3,989.5L218.0,984.5L237.5,979.7L264.0,971.0L288.0,963.0L310.0,955.6L339.7,948.0L368.8,939.7L402.5,933.6L436.3,925.6L460.8,919.5L484.7,913.3L505.2,908.1L534.3,892.2L564.6,883.0L595.1,873.5L621.3,863.3L640.4,850.5L667.6,841.6L699.1,830.2L725.2,825.7L742.2,816.5L758.6,807.7L769.4,802.7L780.3,796.8L789.1,775.8" fill="none" stroke="#ff7200" stroke-width="2.9" stroke-dasharray="2.6 6.4" stroke-linecap="round" stroke-linejoin="round"/>
<path d="M124.0,1004.3L128.7,1012.4H119.3Z" fill="#fff" stroke="#ff7200" stroke-width="0.9"/>
<path d="M146.0,998.8L150.7,1006.9H141.3Z" fill="#fff" stroke="#ff7200" stroke-width="0.9"/>
<path d="M163.0,993.3L167.7,1001.4H158.3Z" fill="#fff" stroke="#ff7200" stroke-width="0.9"/>
<path d="M183.0,989.2L187.7,997.3H178.3Z" fill="#fff" stroke="#ff7200" stroke-width="0.9"/>
<path d="M200.3,984.8L205.0,992.9H195.6Z" fill="#fff" stroke="#ff7200" stroke-width="0.9"/>
<path d="M218.0,979.8L222.7,987.9H213.3Z" fill="#fff" stroke="#ff7200" stroke-width="0.9"/>
<path d="M237.5,975.0L242.2,983.1H232.8Z" fill="#fff" stroke="#ff7200" stroke-width="0.9"/>
<path d="M264.0,966.3L268.7,974.4H259.3Z" fill="#fff" stroke="#ff7200" stroke-width="0.9"/>
<path d="M288.0,958.3L292.7,966.4H283.3Z" fill="#fff" stroke="#ff7200" stroke-width="0.9"/>
<path d="M310.0,950.9L314.7,959.0H305.3Z" fill="#fff" stroke="#ff7200" stroke-width="0.9"/>
<path d="M339.7,943.3L344.4,951.4H335.0Z" fill="#fff" stroke="#ff7200" stroke-width="0.9"/>
<path d="M368.8,935.0L373.5,943.1H364.1Z" fill="#fff" stroke="#ff7200" stroke-width="0.9"/>
<path d="M402.5,928.9L407.2,937.0H397.8Z" fill="#fff" stroke="#ff7200" stroke-width="0.9"/>
<path d="M436.3,920.9L441.0,929.0H431.6Z" fill="#fff" stroke="#ff7200" stroke-width="0.9"/>
<path d="M460.8,914.8L465.5,922.9H456.1Z" fill="#fff" stroke="#ff7200" stroke-width="0.9"/>
<path d="M484.7,908.6L489.4,916.7H480.0Z" fill="#fff" stroke="#ff7200" stroke-width="0.9"/>
<path d="M505.2,903.4L509.9,911.5H500.5Z" fill="#fff" stroke="#ff7200" stroke-width="0.9"/>
<path d="M534.3,887.5L539.0,895.6H529.6Z" fill="#fff" stroke="#ff7200" stroke-width="0.9"/>
<path d="M564.6,878.3L569.3,886.4H559.9Z" fill="#fff" stroke="#ff7200" stroke-width="0.9"/>
<path d="M595.1,868.8L599.8,876.9H590.4Z" fill="#fff" stroke="#ff7200" stroke-width="0.9"/>
<path d="M621.3,858.6L626.0,866.7H616.6Z" fill="#fff" stroke="#ff7200" stroke-width="0.9"/>
<path d="M640.4,845.8L645.1,853.9H635.7Z" fill="#fff" stroke="#ff7200" stroke-width="0.9"/>
<path d="M667.6,836.9L672.3,845.0H662.9Z" fill="#fff" stroke="#ff7200" stroke-width="0.9"/>
<path d="M699.1,825.5L703.8,833.6H694.4Z" fill="#fff" stroke="#ff7200" stroke-width="0.9"/>
<path d="M725.2,821.0L729.9,829.1H720.5Z" fill="#fff" stroke="#ff7200" stroke-width="0.9"/>
<path d="M742.2,811.8L746.9,819.9H737.5Z" fill="#fff" stroke="#ff7200" stroke-width="0.9"/>
<path d="M758.6,803.0L763.3,811.1H753.9Z" fill="#fff" stroke="#ff7200" stroke-width="0.9"/>
<path d="M769.4,798.0L774.1,806.1H764.7Z" fill="#fff" stroke="#ff7200" stroke-width="0.9"/>
<path d="M780.3,792.1L785.0,800.2H775.6Z" fill="#fff" stroke="#ff7200" stroke-width="0.9"/>
<path d="M789.1,771.1L793.8,779.2H784.4Z" fill="#fff" stroke="#ff7200" stroke-width="0.9"/>
<path d="M104.0,1014.3L120.0,1010.5L136.1,1008.0L153.6,1003.6L171.1,999.3L189.7,993.8L210.5,987.2L221.4,983.9L245.5,978.5L267.4,970.8L296.9,966.4L306.0,965.7L330.6,959.3L362.1,948.9L394.9,940.3L431.0,931.1L457.7,923.4L499.1,913.3L535.2,906.6L570.5,891.9L606.0,879.4L639.4,870.2L660.5,863.3L686.7,853.5L711.6,846.5L732.2,844.9L765.2,838.1L790.8,833.3L815.3,828.9L841.1,823.0L858.6,819.1L875.1,815.8" fill="none" stroke="#ff7200" stroke-width="2.9" stroke-dasharray="2.6 6.4" stroke-linecap="round" stroke-linejoin="round"/>
<path d="M120.0,1005.6L124.8,1010.5L120.0,1015.4L115.2,1010.5Z" fill="#fff" stroke="#ff7200" stroke-width="0.9"/>
<path d="M136.1,1003.1L140.9,1008.0L136.1,1012.9L131.3,1008.0Z" fill="#fff" stroke="#ff7200" stroke-width="0.9"/>
<path d="M153.6,998.7L158.4,1003.6L153.6,1008.5L148.8,1003.6Z" fill="#fff" stroke="#ff7200" stroke-width="0.9"/>
<path d="M171.1,994.4L175.9,999.3L171.1,1004.2L166.3,999.3Z" fill="#fff" stroke="#ff7200" stroke-width="0.9"/>
<path d="M189.7,988.9L194.5,993.8L189.7,998.7L184.9,993.8Z" fill="#fff" stroke="#ff7200" stroke-width="0.9"/>
<path d="M210.5,982.3L215.3,987.2L210.5,992.1L205.7,987.2Z" fill="#fff" stroke="#ff7200" stroke-width="0.9"/>
<path d="M221.4,979.0L226.2,983.9L221.4,988.8L216.6,983.9Z" fill="#fff" stroke="#ff7200" stroke-width="0.9"/>
<path d="M245.5,973.6L250.3,978.5L245.5,983.4L240.7,978.5Z" fill="#fff" stroke="#ff7200" stroke-width="0.9"/>
<path d="M267.4,965.9L272.2,970.8L267.4,975.7L262.6,970.8Z" fill="#fff" stroke="#ff7200" stroke-width="0.9"/>
<path d="M296.9,961.5L301.7,966.4L296.9,971.3L292.1,966.4Z" fill="#fff" stroke="#ff7200" stroke-width="0.9"/>
<path d="M306.0,960.8L310.8,965.7L306.0,970.6L301.2,965.7Z" fill="#fff" stroke="#ff7200" stroke-width="0.9"/>
<path d="M330.6,954.4L335.4,959.3L330.6,964.2L325.8,959.3Z" fill="#fff" stroke="#ff7200" stroke-width="0.9"/>
<path d="M362.1,944.0L366.9,948.9L362.1,953.8L357.3,948.9Z" fill="#fff" stroke="#ff7200" stroke-width="0.9"/>
<path d="M394.9,935.4L399.7,940.3L394.9,945.2L390.1,940.3Z" fill="#fff" stroke="#ff7200" stroke-width="0.9"/>
<path d="M431.0,926.2L435.8,931.1L431.0,936.0L426.2,931.1Z" fill="#fff" stroke="#ff7200" stroke-width="0.9"/>
<path d="M457.7,918.5L462.5,923.4L457.7,928.3L452.9,923.4Z" fill="#fff" stroke="#ff7200" stroke-width="0.9"/>
<path d="M499.1,908.4L503.9,913.3L499.1,918.2L494.3,913.3Z" fill="#fff" stroke="#ff7200" stroke-width="0.9"/>
<path d="M535.2,901.7L540.0,906.6L535.2,911.5L530.4,906.6Z" fill="#fff" stroke="#ff7200" stroke-width="0.9"/>
<path d="M570.5,887.0L575.3,891.9L570.5,896.8L565.7,891.9Z" fill="#fff" stroke="#ff7200" stroke-width="0.9"/>
<path d="M606.0,874.5L610.8,879.4L606.0,884.3L601.2,879.4Z" fill="#fff" stroke="#ff7200" stroke-width="0.9"/>
<path d="M639.4,865.3L644.2,870.2L639.4,875.1L634.6,870.2Z" fill="#fff" stroke="#ff7200" stroke-width="0.9"/>
<path d="M660.5,858.4L665.3,863.3L660.5,868.2L655.7,863.3Z" fill="#fff" stroke="#ff7200" stroke-width="0.9"/>
<path d="M686.7,848.6L691.5,853.5L686.7,858.4L681.9,853.5Z" fill="#fff" stroke="#ff7200" stroke-width="0.9"/>
<path d="M711.6,841.6L716.4,846.5L711.6,851.4L706.8,846.5Z" fill="#fff" stroke="#ff7200" stroke-width="0.9"/>
<path d="M732.2,840.0L737.0,844.9L732.2,849.8L727.4,844.9Z" fill="#fff" stroke="#ff7200" stroke-width="0.9"/>
<path d="M765.2,833.2L770.0,838.1L765.2,843.0L760.4,838.1Z" fill="#fff" stroke="#ff7200" stroke-width="0.9"/>
<path d="M790.8,828.4L795.6,833.3L790.8,838.2L786.0,833.3Z" fill="#fff" stroke="#ff7200" stroke-width="0.9"/>
<path d="M815.3,824.0L820.1,828.9L815.3,833.8L810.5,828.9Z" fill="#fff" stroke="#ff7200" stroke-width="0.9"/>
<path d="M841.1,818.1L845.9,823.0L841.1,827.9L836.3,823.0Z" fill="#fff" stroke="#ff7200" stroke-width="0.9"/>
<path d="M858.6,814.2L863.4,819.1L858.6,824.0L853.8,819.1Z" fill="#fff" stroke="#ff7200" stroke-width="0.9"/>
<path d="M875.1,810.9L879.9,815.8L875.1,820.7L870.3,815.8Z" fill="#fff" stroke="#ff7200" stroke-width="0.9"/>
</g>
<g font-family='"Liberation Serif", serif' fill="#000">
<path d="M103.8,1186.0V1563.8H882.2" fill="none" stroke="#000" stroke-width="2.4"/>
<path d="M103.8,1563.8h11.5M103.8,1509.8h11.5M103.8,1455.9h11.5M103.8,1401.9h11.5M103.8,1347.9h11.5M103.8,1293.9h11.5M103.8,1240.0h11.5M103.8,1186.0h11.5M233.5,1563.8v-11.5M363.3,1563.8v-11.5M493.0,1563.8v-11.5M622.7,1563.8v-11.5M752.4,1563.8v-11.5M882.2,1563.8v-11.5" fill="none" stroke="#000" stroke-width="2.4"/>
<text transform="translate(89.5,1571.6) scale(1,1.12)" text-anchor="end" font-size="24">0.00</text>
<text transform="translate(89.5,1517.6) scale(1,1.12)" text-anchor="end" font-size="24">0.05</text>
<text transform="translate(89.5,1463.7) scale(1,1.12)" text-anchor="end" font-size="24">0.10</text>
<text transform="translate(89.5,1409.7) scale(1,1.12)" text-anchor="end" font-size="24">0.15</text>
<text transform="translate(89.5,1355.7) scale(1,1.12)" text-anchor="end" font-size="24">0.20</text>
<text transform="translate(89.5,1301.7) scale(1,1.12)" text-anchor="end" font-size="24">0.25</text>
<text transform="translate(89.5,1247.8) scale(1,1.12)" text-anchor="end" font-size="24">0.30</text>
<text transform="translate(89.5,1193.8) scale(1,1.12)" text-anchor="end" font-size="24">0.35</text>
<text transform="translate(103.8,1596.2) scale(1,1.12)" text-anchor="middle" font-size="24">0.0</text>
<text transform="translate(233.5,1596.2) scale(1,1.12)" text-anchor="middle" font-size="24">0.1</text>
<text transform="translate(363.3,1596.2) scale(1,1.12)" text-anchor="middle" font-size="24">0.2</text>
<text transform="translate(493.0,1596.2) scale(1,1.12)" text-anchor="middle" font-size="24">0.3</text>
<text transform="translate(622.7,1596.2) scale(1,1.12)" text-anchor="middle" font-size="24">0.4</text>
<text transform="translate(752.4,1596.2) scale(1,1.12)" text-anchor="middle" font-size="24">0.5</text>
<text transform="translate(882.2,1596.2) scale(1,1.12)" text-anchor="middle" font-size="24">0.6</text>
<text x="493.0" y="1628.6" text-anchor="middle" font-size="25">Hydraulic gradient (<tspan font-style="italic">i</tspan>)</text>
<text transform="translate(36,1374.9) rotate(-90)" text-anchor="middle" font-size="25.4">Seepage velocity (<tspan font-style="italic">v</tspan>) [cm/s]</text>
<text x="2" y="1146.3" font-family="Liberation Sans, sans-serif" font-weight="bold" font-size="43">C</text>
<path d="M559.8,1140.1H609.7" stroke="#000" stroke-width="2.7" stroke-linecap="round"/>
<circle cx="584.8" cy="1140.1" r="3.70" fill="#000"/>
<text transform="translate(615.8,1147.6) scale(1,1.05)" font-size="22">G</text>
<path d="M559.8,1167.9H609.7" stroke="#ff0000" stroke-width="2.7" stroke-linecap="round"/>
<rect x="581.8" y="1164.9" width="6.0" height="6.0" fill="#fff" stroke="#ff0000" stroke-width="0.9"/>
<text transform="translate(615.8,1175.4) scale(1,1.05)" font-size="22">Bq-0.2</text>
<path d="M677.1999999999999,1167.9H726.4000000000001" stroke="#7f7f7f" stroke-width="2.7" stroke-linecap="round"/>
<rect x="699.2" y="1165.3" width="5.3" height="5.3" fill="#7f7f7f" stroke="#7f7f7f" stroke-width="0.9"/>
<text transform="translate(732.8,1175.4) scale(1,1.05)" font-size="22">Bh-0.2</text>
<path d="M795.0,1167.9H844" stroke="#ff7200" stroke-width="2.9" stroke-dasharray="2.6 6.4" stroke-linecap="round"/>
<rect x="815.8" y="1164.9" width="6.0" height="6.0" fill="#fff" stroke="#ff7200" stroke-width="0.9"/>
<text transform="translate(851.0,1175.4) scale(1,1.05)" font-size="22">Bq-0.2</text>
<path d="M559.8,1195.7H609.7" stroke="#ff0000" stroke-width="2.7" stroke-linecap="round"/>
<path d="M584.8,1191.2L589.2,1198.9H580.3Z" fill="#fff" stroke="#ff0000" stroke-width="0.9"/>
<text transform="translate(615.8,1203.2) scale(1,1.05)" font-size="22">Bq-0.4</text>
<path d="M677.1999999999999,1195.7H726.4000000000001" stroke="#7f7f7f" stroke-width="2.7" stroke-linecap="round"/>
<path d="M701.8,1191.2L706.3,1198.9H697.3Z" fill="#7f7f7f" stroke="#7f7f7f" stroke-width="0.9"/>
<text transform="translate(732.8,1203.2) scale(1,1.05)" font-size="22">Bh-0.4</text>
<path d="M795.0,1195.7H844" stroke="#ff7200" stroke-width="2.9" stroke-dasharray="2.6 6.4" stroke-linecap="round"/>
<path d="M818.8,1191.2L823.2,1198.9H814.3Z" fill="#fff" stroke="#ff7200" stroke-width="0.9"/>
<text transform="translate(851.0,1203.2) scale(1,1.05)" font-size="22">Bq-0.4</text>
<path d="M559.8,1223.1H609.7" stroke="#ff0000" stroke-width="2.7" stroke-linecap="round"/>
<path d="M584.8,1218.4L589.3,1223.1L584.8,1227.8L580.2,1223.1Z" fill="#fff" stroke="#ff0000" stroke-width="0.9"/>
<text transform="translate(615.8,1230.6) scale(1,1.05)" font-size="22">Bq-0.6</text>
<path d="M677.1999999999999,1223.1H726.4000000000001" stroke="#7f7f7f" stroke-width="2.7" stroke-linecap="round"/>
<path d="M701.8,1218.4L706.0,1223.1L701.8,1227.8L697.6,1223.1Z" fill="#7f7f7f" stroke="#7f7f7f" stroke-width="0.9"/>
<text transform="translate(732.8,1230.6) scale(1,1.05)" font-size="22">Bh-0.6</text>
<path d="M795.0,1223.1H844" stroke="#ff7200" stroke-width="2.9" stroke-dasharray="2.6 6.4" stroke-linecap="round"/>
<path d="M818.8,1218.4L823.3,1223.1L818.8,1227.8L814.2,1223.1Z" fill="#fff" stroke="#ff7200" stroke-width="0.9"/>
<text transform="translate(851.0,1230.6) scale(1,1.05)" font-size="22">Bq-0.6</text>
<path d="M103.8,1563.8L117.5,1554.9L133.3,1547.5L150.3,1538.2L165.1,1529.4L179.6,1520.4L199.8,1512.8L214.6,1504.6L231.2,1496.4L247.4,1489.6L262.8,1483.2L277.9,1474.3L291.5,1466.3L307.6,1458.2L322.3,1448.8L334.6,1434.1L346.8,1423.2L362.6,1410.3L372.4,1402.2L384.4,1398.2L396.8,1388.4L409.0,1365.2L416.1,1351.8L432.0,1338.6L444.3,1324.8L455.0,1319.3L467.2,1300.3L485.6,1285.0L493.3,1269.0L501.5,1258.0L514.1,1237.5" fill="none" stroke="#000" stroke-width="2.6" stroke-linejoin="round"/>
<circle cx="117.5" cy="1554.9" r="3.89" fill="#000"/>
<circle cx="133.3" cy="1547.5" r="3.89" fill="#000"/>
<circle cx="150.3" cy="1538.2" r="3.89" fill="#000"/>
<circle cx="165.1" cy="1529.4" r="3.89" fill="#000"/>
<circle cx="179.6" cy="1520.4" r="3.89" fill="#000"/>
<circle cx="199.8" cy="1512.8" r="3.89" fill="#000"/>
<circle cx="214.6" cy="1504.6" r="3.89" fill="#000"/>
<circle cx="231.2" cy="1496.4" r="3.89" fill="#000"/>
<circle cx="247.4" cy="1489.6" r="3.89" fill="#000"/>
<circle cx="262.8" cy="1483.2" r="3.89" fill="#000"/>
<circle cx="277.9" cy="1474.3" r="3.89" fill="#000"/>
<circle cx="291.5" cy="1466.3" r="3.89" fill="#000"/>
<circle cx="307.6" cy="1458.2" r="3.89" fill="#000"/>
<circle cx="322.3" cy="1448.8" r="3.89" fill="#000"/>
<circle cx="334.6" cy="1434.1" r="3.89" fill="#000"/>
<circle cx="346.8" cy="1423.2" r="3.89" fill="#000"/>
<circle cx="362.6" cy="1410.3" r="3.89" fill="#000"/>
<circle cx="372.4" cy="1402.2" r="3.89" fill="#000"/>
<circle cx="384.4" cy="1398.2" r="3.89" fill="#000"/>
<circle cx="396.8" cy="1388.4" r="3.89" fill="#000"/>
<circle cx="409.0" cy="1365.2" r="3.89" fill="#000"/>
<circle cx="416.1" cy="1351.8" r="3.89" fill="#000"/>
<circle cx="432.0" cy="1338.6" r="3.89" fill="#000"/>
<circle cx="444.3" cy="1324.8" r="3.89" fill="#000"/>
<circle cx="455.0" cy="1319.3" r="3.89" fill="#000"/>
<circle cx="467.2" cy="1300.3" r="3.89" fill="#000"/>
<circle cx="485.6" cy="1285.0" r="3.89" fill="#000"/>
<circle cx="493.3" cy="1269.0" r="3.89" fill="#000"/>
<circle cx="501.5" cy="1258.0" r="3.89" fill="#000"/>
<circle cx="514.1" cy="1237.5" r="3.89" fill="#000"/>
<path d="M103.8,1563.8L117.5,1555.6L134.0,1547.9L150.1,1540.5L164.1,1531.8L180.5,1524.1L198.0,1514.3L213.8,1505.9L229.6,1498.9L247.1,1490.8L262.1,1485.5L277.9,1476.0L300.6,1468.0L310.1,1462.8L320.6,1457.5L338.1,1451.6L354.9,1440.0L365.1,1428.8L376.6,1415.5L389.9,1407.5L409.7,1392.0L417.1,1381.4L428.0,1369.8L438.0,1353.6L450.3,1338.1L462.5,1327.2L474.8,1321.0L489.3,1308.7L501.5,1287.8L515.9,1272.0L527.0,1251.3" fill="none" stroke="#ff0000" stroke-width="2.6" stroke-linejoin="round"/>
<rect x="114.1" y="1552.2" width="6.8" height="6.8" fill="#fff" stroke="#ff0000" stroke-width="0.9"/>
<rect x="130.6" y="1544.5" width="6.8" height="6.8" fill="#fff" stroke="#ff0000" stroke-width="0.9"/>
<rect x="146.7" y="1537.1" width="6.8" height="6.8" fill="#fff" stroke="#ff0000" stroke-width="0.9"/>
<rect x="160.7" y="1528.4" width="6.8" height="6.8" fill="#fff" stroke="#ff0000" stroke-width="0.9"/>
<rect x="177.1" y="1520.7" width="6.8" height="6.8" fill="#fff" stroke="#ff0000" stroke-width="0.9"/>
<rect x="194.6" y="1510.9" width="6.8" height="6.8" fill="#fff" stroke="#ff0000" stroke-width="0.9"/>
<rect x="210.4" y="1502.5" width="6.8" height="6.8" fill="#fff" stroke="#ff0000" stroke-width="0.9"/>
<rect x="226.2" y="1495.5" width="6.8" height="6.8" fill="#fff" stroke="#ff0000" stroke-width="0.9"/>
<rect x="243.7" y="1487.4" width="6.8" height="6.8" fill="#fff" stroke="#ff0000" stroke-width="0.9"/>
<rect x="258.7" y="1482.1" width="6.8" height="6.8" fill="#fff" stroke="#ff0000" stroke-width="0.9"/>
<rect x="274.5" y="1472.6" width="6.8" height="6.8" fill="#fff" stroke="#ff0000" stroke-width="0.9"/>
<rect x="297.2" y="1464.6" width="6.8" height="6.8" fill="#fff" stroke="#ff0000" stroke-width="0.9"/>
<rect x="306.7" y="1459.4" width="6.8" height="6.8" fill="#fff" stroke="#ff0000" stroke-width="0.9"/>
<rect x="317.2" y="1454.1" width="6.8" height="6.8" fill="#fff" stroke="#ff0000" stroke-width="0.9"/>
<rect x="334.7" y="1448.2" width="6.8" height="6.8" fill="#fff" stroke="#ff0000" stroke-width="0.9"/>
<rect x="351.5" y="1436.6" width="6.8" height="6.8" fill="#fff" stroke="#ff0000" stroke-width="0.9"/>
<rect x="361.7" y="1425.4" width="6.8" height="6.8" fill="#fff" stroke="#ff0000" stroke-width="0.9"/>
<rect x="373.2" y="1412.1" width="6.8" height="6.8" fill="#fff" stroke="#ff0000" stroke-width="0.9"/>
<rect x="386.5" y="1404.1" width="6.8" height="6.8" fill="#fff" stroke="#ff0000" stroke-width="0.9"/>
<rect x="406.3" y="1388.6" width="6.8" height="6.8" fill="#fff" stroke="#ff0000" stroke-width="0.9"/>
<rect x="413.7" y="1378.0" width="6.8" height="6.8" fill="#fff" stroke="#ff0000" stroke-width="0.9"/>
<rect x="424.6" y="1366.4" width="6.8" height="6.8" fill="#fff" stroke="#ff0000" stroke-width="0.9"/>
<rect x="434.6" y="1350.2" width="6.8" height="6.8" fill="#fff" stroke="#ff0000" stroke-width="0.9"/>
<rect x="446.9" y="1334.7" width="6.8" height="6.8" fill="#fff" stroke="#ff0000" stroke-width="0.9"/>
<rect x="459.1" y="1323.8" width="6.8" height="6.8" fill="#fff" stroke="#ff0000" stroke-width="0.9"/>
<rect x="471.4" y="1317.6" width="6.8" height="6.8" fill="#fff" stroke="#ff0000" stroke-width="0.9"/>
<rect x="485.9" y="1305.3" width="6.8" height="6.8" fill="#fff" stroke="#ff0000" stroke-width="0.9"/>
<rect x="498.1" y="1284.4" width="6.8" height="6.8" fill="#fff" stroke="#ff0000" stroke-width="0.9"/>
<rect x="512.5" y="1268.6" width="6.8" height="6.8" fill="#fff" stroke="#ff0000" stroke-width="0.9"/>
<rect x="523.6" y="1247.9" width="6.8" height="6.8" fill="#fff" stroke="#ff0000" stroke-width="0.9"/>
<path d="M103.8,1563.8L118.0,1557.0L132.6,1552.8L149.0,1545.1L165.5,1537.4L182.3,1529.3L201.5,1520.6L218.3,1513.6L240.1,1503.1L255.1,1495.0L271.6,1488.0L290.1,1480.3L305.9,1472.6L321.6,1462.8L340.9,1455.8L359.1,1449.8L371.4,1440.0L383.6,1426.7L409.4,1416.0L419.3,1405.9L440.4,1395.1L452.6,1385.3L471.8,1366.7L493.8,1358.5L517.2,1343.3L537.3,1328.1L545.3,1316.5L557.9,1298.4L567.4,1280.1L576.0,1265.1L584.6,1250.7" fill="none" stroke="#ff0000" stroke-width="2.6" stroke-linejoin="round"/>
<path d="M118.0,1552.3L122.7,1560.4H113.3Z" fill="#fff" stroke="#ff0000" stroke-width="0.9"/>
<path d="M132.6,1548.1L137.3,1556.2H127.9Z" fill="#fff" stroke="#ff0000" stroke-width="0.9"/>
<path d="M149.0,1540.4L153.7,1548.5H144.3Z" fill="#fff" stroke="#ff0000" stroke-width="0.9"/>
<path d="M165.5,1532.7L170.2,1540.8H160.8Z" fill="#fff" stroke="#ff0000" stroke-width="0.9"/>
<path d="M182.3,1524.6L187.0,1532.7H177.6Z" fill="#fff" stroke="#ff0000" stroke-width="0.9"/>
<path d="M201.5,1515.9L206.2,1524.0H196.8Z" fill="#fff" stroke="#ff0000" stroke-width="0.9"/>
<path d="M218.3,1508.9L223.0,1517.0H213.6Z" fill="#fff" stroke="#ff0000" stroke-width="0.9"/>
<path d="M240.1,1498.4L244.8,1506.5H235.4Z" fill="#fff" stroke="#ff0000" stroke-width="0.9"/>
<path d="M255.1,1490.3L259.8,1498.4H250.4Z" fill="#fff" stroke="#ff0000" stroke-width="0.9"/>
<path d="M271.6,1483.3L276.3,1491.4H266.9Z" fill="#fff" stroke="#ff0000" stroke-width="0.9"/>
<path d="M290.1,1475.6L294.8,1483.7H285.4Z" fill="#fff" stroke="#ff0000" stroke-width="0.9"/>
<path d="M305.9,1467.9L310.6,1476.0H301.2Z" fill="#fff" stroke="#ff0000" stroke-width="0.9"/>
<path d="M321.6,1458.1L326.3,1466.2H316.9Z" fill="#fff" stroke="#ff0000" stroke-width="0.9"/>
<path d="M340.9,1451.1L345.6,1459.2H336.2Z" fill="#fff" stroke="#ff0000" stroke-width="0.9"/>
<path d="M359.1,1445.1L363.8,1453.2H354.4Z" fill="#fff" stroke="#ff0000" stroke-width="0.9"/>
<path d="M371.4,1435.3L376.1,1443.4H366.7Z" fill="#fff" stroke="#ff0000" stroke-width="0.9"/>
<path d="M383.6,1422.0L388.3,1430.1H378.9Z" fill="#fff" stroke="#ff0000" stroke-width="0.9"/>
<path d="M409.4,1411.3L414.1,1419.4H404.7Z" fill="#fff" stroke="#ff0000" stroke-width="0.9"/>
<path d="M419.3,1401.2L424.0,1409.3H414.6Z" fill="#fff" stroke="#ff0000" stroke-width="0.9"/>
<path d="M440.4,1390.4L445.1,1398.5H435.7Z" fill="#fff" stroke="#ff0000" stroke-width="0.9"/>
<path d="M452.6,1380.6L457.3,1388.7H447.9Z" fill="#fff" stroke="#ff0000" stroke-width="0.9"/>
<path d="M471.8,1362.0L476.5,1370.1H467.1Z" fill="#fff" stroke="#ff0000" stroke-width="0.9"/>
<path d="M493.8,1353.8L498.5,1361.9H489.1Z" fill="#fff" stroke="#ff0000" stroke-width="0.9"/>
<path d="M517.2,1338.6L521.9,1346.7H512.5Z" fill="#fff" stroke="#ff0000" stroke-width="0.9"/>
<path d="M537.3,1323.4L542.0,1331.5H532.6Z" fill="#fff" stroke="#ff0000" stroke-width="0.9"/>
<path d="M545.3,1311.8L550.0,1319.9H540.6Z" fill="#fff" stroke="#ff0000" stroke-width="0.9"/>
<path d="M557.9,1293.7L562.6,1301.8H553.2Z" fill="#fff" stroke="#ff0000" stroke-width="0.9"/>
<path d="M567.4,1275.4L572.1,1283.5H562.7Z" fill="#fff" stroke="#ff0000" stroke-width="0.9"/>
<path d="M576.0,1260.4L580.7,1268.5H571.3Z" fill="#fff" stroke="#ff0000" stroke-width="0.9"/>
<path d="M584.6,1246.0L589.3,1254.1H579.9Z" fill="#fff" stroke="#ff0000" stroke-width="0.9"/>
<path d="M103.8,1563.8L119.0,1557.0L134.0,1549.5L150.5,1542.5L167.2,1534.2L184.9,1526.7L203.5,1520.2L217.4,1513.7L242.5,1503.5L263.9,1496.2L285.5,1488.0L306.6,1482.0L320.6,1474.3L349.3,1464.5L372.1,1456.8L394.1,1450.5L411.6,1443.4L426.3,1432.8L441.0,1423.4L455.3,1412.9L473.5,1406.6L484.6,1397.0L504.0,1382.9L529.8,1372.2L540.8,1360.0L553.0,1345.8L576.0,1335.8L587.0,1321.5L595.3,1297.1L607.4,1277.8L612.8,1256.8" fill="none" stroke="#ff0000" stroke-width="2.6" stroke-linejoin="round"/>
<path d="M119.0,1552.1L123.8,1557.0L119.0,1561.9L114.2,1557.0Z" fill="#fff" stroke="#ff0000" stroke-width="0.9"/>
<path d="M134.0,1544.6L138.8,1549.5L134.0,1554.4L129.2,1549.5Z" fill="#fff" stroke="#ff0000" stroke-width="0.9"/>
<path d="M150.5,1537.6L155.3,1542.5L150.5,1547.4L145.7,1542.5Z" fill="#fff" stroke="#ff0000" stroke-width="0.9"/>
<path d="M167.2,1529.3L172.0,1534.2L167.2,1539.1L162.4,1534.2Z" fill="#fff" stroke="#ff0000" stroke-width="0.9"/>
<path d="M184.9,1521.8L189.7,1526.7L184.9,1531.6L180.1,1526.7Z" fill="#fff" stroke="#ff0000" stroke-width="0.9"/>
<path d="M203.5,1515.3L208.3,1520.2L203.5,1525.1L198.7,1520.2Z" fill="#fff" stroke="#ff0000" stroke-width="0.9"/>
<path d="M217.4,1508.8L222.2,1513.7L217.4,1518.6L212.6,1513.7Z" fill="#fff" stroke="#ff0000" stroke-width="0.9"/>
<path d="M242.5,1498.6L247.3,1503.5L242.5,1508.4L237.7,1503.5Z" fill="#fff" stroke="#ff0000" stroke-width="0.9"/>
<path d="M263.9,1491.3L268.7,1496.2L263.9,1501.1L259.1,1496.2Z" fill="#fff" stroke="#ff0000" stroke-width="0.9"/>
<path d="M285.5,1483.1L290.3,1488.0L285.5,1492.9L280.7,1488.0Z" fill="#fff" stroke="#ff0000" stroke-width="0.9"/>
<path d="M306.6,1477.1L311.4,1482.0L306.6,1486.9L301.8,1482.0Z" fill="#fff" stroke="#ff0000" stroke-width="0.9"/>
<path d="M320.6,1469.4L325.4,1474.3L320.6,1479.2L315.8,1474.3Z" fill="#fff" stroke="#ff0000" stroke-width="0.9"/>
<path d="M349.3,1459.6L354.1,1464.5L349.3,1469.4L344.5,1464.5Z" fill="#fff" stroke="#ff0000" stroke-width="0.9"/>
<path d="M372.1,1451.9L376.9,1456.8L372.1,1461.7L367.3,1456.8Z" fill="#fff" stroke="#ff0000" stroke-width="0.9"/>
<path d="M394.1,1445.6L398.9,1450.5L394.1,1455.4L389.3,1450.5Z" fill="#fff" stroke="#ff0000" stroke-width="0.9"/>
<path d="M411.6,1438.5L416.4,1443.4L411.6,1448.3L406.8,1443.4Z" fill="#fff" stroke="#ff0000" stroke-width="0.9"/>
<path d="M426.3,1427.9L431.1,1432.8L426.3,1437.7L421.5,1432.8Z" fill="#fff" stroke="#ff0000" stroke-width="0.9"/>
<path d="M441.0,1418.5L445.8,1423.4L441.0,1428.3L436.2,1423.4Z" fill="#fff" stroke="#ff0000" stroke-width="0.9"/>
<path d="M455.3,1408.0L460.1,1412.9L455.3,1417.8L450.5,1412.9Z" fill="#fff" stroke="#ff0000" stroke-width="0.9"/>
<path d="M473.5,1401.7L478.3,1406.6L473.5,1411.5L468.7,1406.6Z" fill="#fff" stroke="#ff0000" stroke-width="0.9"/>
<path d="M484.6,1392.1L489.4,1397.0L484.6,1401.9L479.8,1397.0Z" fill="#fff" stroke="#ff0000" stroke-width="0.9"/>
<path d="M504.0,1378.0L508.8,1382.9L504.0,1387.8L499.2,1382.9Z" fill="#fff" stroke="#ff0000" stroke-width="0.9"/>
<path d="M529.8,1367.3L534.6,1372.2L529.8,1377.1L525.0,1372.2Z" fill="#fff" stroke="#ff0000" stroke-width="0.9"/>
<path d="M540.8,1355.1L545.6,1360.0L540.8,1364.9L536.0,1360.0Z" fill="#fff" stroke="#ff0000" stroke-width="0.9"/>
<path d="M553.0,1340.9L557.8,1345.8L553.0,1350.7L548.2,1345.8Z" fill="#fff" stroke="#ff0000" stroke-width="0.9"/>
<path d="M576.0,1330.9L580.8,1335.8L576.0,1340.7L571.2,1335.8Z" fill="#fff" stroke="#ff0000" stroke-width="0.9"/>
<path d="M587.0,1316.6L591.8,1321.5L587.0,1326.4L582.2,1321.5Z" fill="#fff" stroke="#ff0000" stroke-width="0.9"/>
<path d="M595.3,1292.2L600.1,1297.1L595.3,1302.0L590.5,1297.1Z" fill="#fff" stroke="#ff0000" stroke-width="0.9"/>
<path d="M607.4,1272.9L612.2,1277.8L607.4,1282.7L602.6,1277.8Z" fill="#fff" stroke="#ff0000" stroke-width="0.9"/>
<path d="M612.8,1251.9L617.6,1256.8L612.8,1261.7L608.0,1256.8Z" fill="#fff" stroke="#ff0000" stroke-width="0.9"/>
<path d="M103.8,1563.8L118.0,1557.0L131.5,1552.1L147.0,1546.5L163.0,1541.6L185.8,1534.6L205.0,1528.3L227.1,1518.8L250.6,1511.8L267.4,1503.1L290.1,1495.0L317.1,1489.0L341.6,1482.0L367.9,1472.6L391.7,1461.7L418.6,1451.2L426.3,1448.6L460.2,1435.3L484.0,1426.9L508.5,1421.3L522.5,1416.0L542.9,1407.6L561.8,1398.5L575.1,1385.5L590.8,1376.1L603.1,1368.7L619.5,1355.8L633.9,1344.2L647.9,1331.3L658.4,1319.0L670.3,1301.5L681.9,1284.7L687.2,1272.0" fill="none" stroke="#7f7f7f" stroke-width="2.6" stroke-linejoin="round"/>
<rect x="115.0" y="1554.0" width="6.0" height="6.0" fill="#7f7f7f" stroke="#7f7f7f" stroke-width="0.9"/>
<rect x="128.5" y="1549.1" width="6.0" height="6.0" fill="#7f7f7f" stroke="#7f7f7f" stroke-width="0.9"/>
<rect x="144.0" y="1543.5" width="6.0" height="6.0" fill="#7f7f7f" stroke="#7f7f7f" stroke-width="0.9"/>
<rect x="160.0" y="1538.6" width="6.0" height="6.0" fill="#7f7f7f" stroke="#7f7f7f" stroke-width="0.9"/>
<rect x="182.8" y="1531.6" width="6.0" height="6.0" fill="#7f7f7f" stroke="#7f7f7f" stroke-width="0.9"/>
<rect x="202.0" y="1525.3" width="6.0" height="6.0" fill="#7f7f7f" stroke="#7f7f7f" stroke-width="0.9"/>
<rect x="224.1" y="1515.8" width="6.0" height="6.0" fill="#7f7f7f" stroke="#7f7f7f" stroke-width="0.9"/>
<rect x="247.6" y="1508.8" width="6.0" height="6.0" fill="#7f7f7f" stroke="#7f7f7f" stroke-width="0.9"/>
<rect x="264.4" y="1500.1" width="6.0" height="6.0" fill="#7f7f7f" stroke="#7f7f7f" stroke-width="0.9"/>
<rect x="287.1" y="1492.0" width="6.0" height="6.0" fill="#7f7f7f" stroke="#7f7f7f" stroke-width="0.9"/>
<rect x="314.1" y="1486.0" width="6.0" height="6.0" fill="#7f7f7f" stroke="#7f7f7f" stroke-width="0.9"/>
<rect x="338.6" y="1479.0" width="6.0" height="6.0" fill="#7f7f7f" stroke="#7f7f7f" stroke-width="0.9"/>
<rect x="364.9" y="1469.6" width="6.0" height="6.0" fill="#7f7f7f" stroke="#7f7f7f" stroke-width="0.9"/>
<rect x="388.7" y="1458.7" width="6.0" height="6.0" fill="#7f7f7f" stroke="#7f7f7f" stroke-width="0.9"/>
<rect x="415.6" y="1448.2" width="6.0" height="6.0" fill="#7f7f7f" stroke="#7f7f7f" stroke-width="0.9"/>
<rect x="423.3" y="1445.6" width="6.0" height="6.0" fill="#7f7f7f" stroke="#7f7f7f" stroke-width="0.9"/>
<rect x="457.2" y="1432.3" width="6.0" height="6.0" fill="#7f7f7f" stroke="#7f7f7f" stroke-width="0.9"/>
<rect x="481.0" y="1423.9" width="6.0" height="6.0" fill="#7f7f7f" stroke="#7f7f7f" stroke-width="0.9"/>
<rect x="505.5" y="1418.3" width="6.0" height="6.0" fill="#7f7f7f" stroke="#7f7f7f" stroke-width="0.9"/>
<rect x="519.5" y="1413.0" width="6.0" height="6.0" fill="#7f7f7f" stroke="#7f7f7f" stroke-width="0.9"/>
<rect x="539.9" y="1404.6" width="6.0" height="6.0" fill="#7f7f7f" stroke="#7f7f7f" stroke-width="0.9"/>
<rect x="558.8" y="1395.5" width="6.0" height="6.0" fill="#7f7f7f" stroke="#7f7f7f" stroke-width="0.9"/>
<rect x="572.1" y="1382.5" width="6.0" height="6.0" fill="#7f7f7f" stroke="#7f7f7f" stroke-width="0.9"/>
<rect x="587.8" y="1373.1" width="6.0" height="6.0" fill="#7f7f7f" stroke="#7f7f7f" stroke-width="0.9"/>
<rect x="600.1" y="1365.7" width="6.0" height="6.0" fill="#7f7f7f" stroke="#7f7f7f" stroke-width="0.9"/>
<rect x="616.5" y="1352.8" width="6.0" height="6.0" fill="#7f7f7f" stroke="#7f7f7f" stroke-width="0.9"/>
<rect x="630.9" y="1341.2" width="6.0" height="6.0" fill="#7f7f7f" stroke="#7f7f7f" stroke-width="0.9"/>
<rect x="644.9" y="1328.3" width="6.0" height="6.0" fill="#7f7f7f" stroke="#7f7f7f" stroke-width="0.9"/>
<rect x="655.4" y="1316.0" width="6.0" height="6.0" fill="#7f7f7f" stroke="#7f7f7f" stroke-width="0.9"/>
<rect x="667.3" y="1298.5" width="6.0" height="6.0" fill="#7f7f7f" stroke="#7f7f7f" stroke-width="0.9"/>
<rect x="678.9" y="1281.7" width="6.0" height="6.0" fill="#7f7f7f" stroke="#7f7f7f" stroke-width="0.9"/>
<rect x="684.2" y="1269.0" width="6.0" height="6.0" fill="#7f7f7f" stroke="#7f7f7f" stroke-width="0.9"/>
<path d="M103.8,1563.8L122.0,1558.0L142.0,1551.0L163.0,1545.1L183.0,1537.4L204.3,1530.0L226.8,1521.3L249.9,1513.6L269.1,1508.3L290.8,1503.1L312.9,1492.5L345.1,1483.8L380.1,1472.2L410.9,1465.4L445.5,1449.3L475.3,1437.0L500.8,1431.1L513.8,1425.8L529.6,1419.9L550.6,1412.5L563.9,1406.6L582.8,1393.2L603.1,1383.8L618.8,1369.8L634.6,1359.3L650.4,1340.0L661.9,1326.7L685.4,1310.3L699.0,1287.4" fill="none" stroke="#7f7f7f" stroke-width="2.6" stroke-linejoin="round"/>
<path d="M122.0,1553.3L126.7,1561.4H117.3Z" fill="#7f7f7f" stroke="#7f7f7f" stroke-width="0.9"/>
<path d="M142.0,1546.3L146.7,1554.4H137.3Z" fill="#7f7f7f" stroke="#7f7f7f" stroke-width="0.9"/>
<path d="M163.0,1540.4L167.7,1548.5H158.3Z" fill="#7f7f7f" stroke="#7f7f7f" stroke-width="0.9"/>
<path d="M183.0,1532.7L187.7,1540.8H178.3Z" fill="#7f7f7f" stroke="#7f7f7f" stroke-width="0.9"/>
<path d="M204.3,1525.3L209.0,1533.4H199.6Z" fill="#7f7f7f" stroke="#7f7f7f" stroke-width="0.9"/>
<path d="M226.8,1516.6L231.5,1524.7H222.1Z" fill="#7f7f7f" stroke="#7f7f7f" stroke-width="0.9"/>
<path d="M249.9,1508.9L254.6,1517.0H245.2Z" fill="#7f7f7f" stroke="#7f7f7f" stroke-width="0.9"/>
<path d="M269.1,1503.6L273.8,1511.7H264.4Z" fill="#7f7f7f" stroke="#7f7f7f" stroke-width="0.9"/>
<path d="M290.8,1498.4L295.5,1506.5H286.1Z" fill="#7f7f7f" stroke="#7f7f7f" stroke-width="0.9"/>
<path d="M312.9,1487.8L317.6,1495.9H308.2Z" fill="#7f7f7f" stroke="#7f7f7f" stroke-width="0.9"/>
<path d="M345.1,1479.1L349.8,1487.2H340.4Z" fill="#7f7f7f" stroke="#7f7f7f" stroke-width="0.9"/>
<path d="M380.1,1467.5L384.8,1475.6H375.4Z" fill="#7f7f7f" stroke="#7f7f7f" stroke-width="0.9"/>
<path d="M410.9,1460.7L415.6,1468.8H406.2Z" fill="#7f7f7f" stroke="#7f7f7f" stroke-width="0.9"/>
<path d="M445.5,1444.6L450.2,1452.7H440.8Z" fill="#7f7f7f" stroke="#7f7f7f" stroke-width="0.9"/>
<path d="M475.3,1432.3L480.0,1440.4H470.6Z" fill="#7f7f7f" stroke="#7f7f7f" stroke-width="0.9"/>
<path d="M500.8,1426.4L505.5,1434.5H496.1Z" fill="#7f7f7f" stroke="#7f7f7f" stroke-width="0.9"/>
<path d="M513.8,1421.1L518.5,1429.2H509.1Z" fill="#7f7f7f" stroke="#7f7f7f" stroke-width="0.9"/>
<path d="M529.6,1415.2L534.3,1423.3H524.9Z" fill="#7f7f7f" stroke="#7f7f7f" stroke-width="0.9"/>
<path d="M550.6,1407.8L555.3,1415.9H545.9Z" fill="#7f7f7f" stroke="#7f7f7f" stroke-width="0.9"/>
<path d="M563.9,1401.9L568.6,1410.0H559.2Z" fill="#7f7f7f" stroke="#7f7f7f" stroke-width="0.9"/>
<path d="M582.8,1388.5L587.5,1396.6H578.1Z" fill="#7f7f7f" stroke="#7f7f7f" stroke-width="0.9"/>
<path d="M603.1,1379.1L607.8,1387.2H598.4Z" fill="#7f7f7f" stroke="#7f7f7f" stroke-width="0.9"/>
<path d="M618.8,1365.1L623.5,1373.2H614.1Z" fill="#7f7f7f" stroke="#7f7f7f" stroke-width="0.9"/>
<path d="M634.6,1354.6L639.3,1362.7H629.9Z" fill="#7f7f7f" stroke="#7f7f7f" stroke-width="0.9"/>
<path d="M650.4,1335.3L655.1,1343.4H645.7Z" fill="#7f7f7f" stroke="#7f7f7f" stroke-width="0.9"/>
<path d="M661.9,1322.0L666.6,1330.1H657.2Z" fill="#7f7f7f" stroke="#7f7f7f" stroke-width="0.9"/>
<path d="M685.4,1305.6L690.1,1313.7H680.7Z" fill="#7f7f7f" stroke="#7f7f7f" stroke-width="0.9"/>
<path d="M699.0,1282.7L703.7,1290.8H694.3Z" fill="#7f7f7f" stroke="#7f7f7f" stroke-width="0.9"/>
<path d="M103.8,1563.8L124.0,1558.0L146.0,1551.5L168.0,1545.0L188.0,1538.5L206.8,1531.8L233.8,1523.4L256.9,1517.1L280.3,1510.8L309.4,1503.1L332.8,1494.3L357.4,1489.0L380.1,1483.1L406.4,1476.1L435.0,1468.9L468.3,1460.8L492.1,1445.1L521.8,1435.6L542.9,1426.9L568.1,1417.1L587.3,1410.1L606.6,1393.2L632.8,1378.5L643.3,1370.8L660.9,1362.8L680.1,1340.7L692.4,1324.3L709.1,1306.4" fill="none" stroke="#7f7f7f" stroke-width="2.6" stroke-linejoin="round"/>
<path d="M124.0,1553.1L128.4,1558.0L124.0,1562.9L119.6,1558.0Z" fill="#7f7f7f" stroke="#7f7f7f" stroke-width="0.9"/>
<path d="M146.0,1546.6L150.4,1551.5L146.0,1556.4L141.6,1551.5Z" fill="#7f7f7f" stroke="#7f7f7f" stroke-width="0.9"/>
<path d="M168.0,1540.1L172.4,1545.0L168.0,1549.9L163.6,1545.0Z" fill="#7f7f7f" stroke="#7f7f7f" stroke-width="0.9"/>
<path d="M188.0,1533.6L192.4,1538.5L188.0,1543.4L183.6,1538.5Z" fill="#7f7f7f" stroke="#7f7f7f" stroke-width="0.9"/>
<path d="M206.8,1526.9L211.2,1531.8L206.8,1536.7L202.4,1531.8Z" fill="#7f7f7f" stroke="#7f7f7f" stroke-width="0.9"/>
<path d="M233.8,1518.5L238.2,1523.4L233.8,1528.3L229.4,1523.4Z" fill="#7f7f7f" stroke="#7f7f7f" stroke-width="0.9"/>
<path d="M256.9,1512.2L261.3,1517.1L256.9,1522.0L252.5,1517.1Z" fill="#7f7f7f" stroke="#7f7f7f" stroke-width="0.9"/>
<path d="M280.3,1505.9L284.7,1510.8L280.3,1515.7L275.9,1510.8Z" fill="#7f7f7f" stroke="#7f7f7f" stroke-width="0.9"/>
<path d="M309.4,1498.2L313.8,1503.1L309.4,1508.0L305.0,1503.1Z" fill="#7f7f7f" stroke="#7f7f7f" stroke-width="0.9"/>
<path d="M332.8,1489.4L337.2,1494.3L332.8,1499.2L328.4,1494.3Z" fill="#7f7f7f" stroke="#7f7f7f" stroke-width="0.9"/>
<path d="M357.4,1484.1L361.8,1489.0L357.4,1493.9L353.0,1489.0Z" fill="#7f7f7f" stroke="#7f7f7f" stroke-width="0.9"/>
<path d="M380.1,1478.2L384.5,1483.1L380.1,1488.0L375.7,1483.1Z" fill="#7f7f7f" stroke="#7f7f7f" stroke-width="0.9"/>
<path d="M406.4,1471.2L410.8,1476.1L406.4,1481.0L402.0,1476.1Z" fill="#7f7f7f" stroke="#7f7f7f" stroke-width="0.9"/>
<path d="M435.0,1464.0L439.4,1468.9L435.0,1473.8L430.6,1468.9Z" fill="#7f7f7f" stroke="#7f7f7f" stroke-width="0.9"/>
<path d="M468.3,1455.9L472.7,1460.8L468.3,1465.7L463.9,1460.8Z" fill="#7f7f7f" stroke="#7f7f7f" stroke-width="0.9"/>
<path d="M492.1,1440.2L496.5,1445.1L492.1,1450.0L487.7,1445.1Z" fill="#7f7f7f" stroke="#7f7f7f" stroke-width="0.9"/>
<path d="M521.8,1430.7L526.2,1435.6L521.8,1440.5L517.4,1435.6Z" fill="#7f7f7f" stroke="#7f7f7f" stroke-width="0.9"/>
<path d="M542.9,1422.0L547.3,1426.9L542.9,1431.8L538.5,1426.9Z" fill="#7f7f7f" stroke="#7f7f7f" stroke-width="0.9"/>
<path d="M568.1,1412.2L572.5,1417.1L568.1,1422.0L563.7,1417.1Z" fill="#7f7f7f" stroke="#7f7f7f" stroke-width="0.9"/>
<path d="M587.3,1405.2L591.7,1410.1L587.3,1415.0L582.9,1410.1Z" fill="#7f7f7f" stroke="#7f7f7f" stroke-width="0.9"/>
<path d="M606.6,1388.3L611.0,1393.2L606.6,1398.1L602.2,1393.2Z" fill="#7f7f7f" stroke="#7f7f7f" stroke-width="0.9"/>
<path d="M632.8,1373.6L637.2,1378.5L632.8,1383.4L628.4,1378.5Z" fill="#7f7f7f" stroke="#7f7f7f" stroke-width="0.9"/>
<path d="M643.3,1365.9L647.7,1370.8L643.3,1375.7L638.9,1370.8Z" fill="#7f7f7f" stroke="#7f7f7f" stroke-width="0.9"/>
<path d="M660.9,1357.9L665.3,1362.8L660.9,1367.7L656.5,1362.8Z" fill="#7f7f7f" stroke="#7f7f7f" stroke-width="0.9"/>
<path d="M680.1,1335.8L684.5,1340.7L680.1,1345.6L675.7,1340.7Z" fill="#7f7f7f" stroke="#7f7f7f" stroke-width="0.9"/>
<path d="M692.4,1319.4L696.8,1324.3L692.4,1329.2L688.0,1324.3Z" fill="#7f7f7f" stroke="#7f7f7f" stroke-width="0.9"/>
<path d="M709.1,1301.5L713.5,1306.4L709.1,1311.3L704.7,1306.4Z" fill="#7f7f7f" stroke="#7f7f7f" stroke-width="0.9"/>
<path d="M103.8,1563.8L120.0,1560.0L139.6,1555.0L160.0,1550.0L180.0,1545.0L198.0,1541.0L217.3,1535.6L236.6,1531.1L267.4,1524.1L290.8,1520.6L312.9,1516.4L340.9,1510.1L371.4,1504.8L399.4,1499.6L415.1,1494.3L423.8,1490.6L450.8,1485.3L481.2,1476.6L515.5,1470.6L543.6,1461.5L574.0,1446.8L601.3,1438.1L633.5,1425.8L649.6,1417.1L668.9,1406.6L682.9,1398.9L697.0,1389.1L711.1,1376.3L721.1,1360.2L729.9,1350.4L748.9,1338.1L764.2,1328.3L770.8,1321.3L776.9,1308.6" fill="none" stroke="#ff7200" stroke-width="2.9" stroke-dasharray="2.6 6.4" stroke-linecap="round" stroke-linejoin="round"/>
<rect x="116.6" y="1556.6" width="6.8" height="6.8" fill="#fff" stroke="#ff7200" stroke-width="0.9"/>
<rect x="136.2" y="1551.6" width="6.8" height="6.8" fill="#fff" stroke="#ff7200" stroke-width="0.9"/>
<rect x="156.6" y="1546.6" width="6.8" height="6.8" fill="#fff" stroke="#ff7200" stroke-width="0.9"/>
<rect x="176.6" y="1541.6" width="6.8" height="6.8" fill="#fff" stroke="#ff7200" stroke-width="0.9"/>
<rect x="194.6" y="1537.6" width="6.8" height="6.8" fill="#fff" stroke="#ff7200" stroke-width="0.9"/>
<rect x="213.9" y="1532.2" width="6.8" height="6.8" fill="#fff" stroke="#ff7200" stroke-width="0.9"/>
<rect x="233.2" y="1527.7" width="6.8" height="6.8" fill="#fff" stroke="#ff7200" stroke-width="0.9"/>
<rect x="264.0" y="1520.7" width="6.8" height="6.8" fill="#fff" stroke="#ff7200" stroke-width="0.9"/>
<rect x="287.4" y="1517.2" width="6.8" height="6.8" fill="#fff" stroke="#ff7200" stroke-width="0.9"/>
<rect x="309.5" y="1513.0" width="6.8" height="6.8" fill="#fff" stroke="#ff7200" stroke-width="0.9"/>
<rect x="337.5" y="1506.7" width="6.8" height="6.8" fill="#fff" stroke="#ff7200" stroke-width="0.9"/>
<rect x="368.0" y="1501.4" width="6.8" height="6.8" fill="#fff" stroke="#ff7200" stroke-width="0.9"/>
<rect x="396.0" y="1496.2" width="6.8" height="6.8" fill="#fff" stroke="#ff7200" stroke-width="0.9"/>
<rect x="411.7" y="1490.9" width="6.8" height="6.8" fill="#fff" stroke="#ff7200" stroke-width="0.9"/>
<rect x="420.4" y="1487.2" width="6.8" height="6.8" fill="#fff" stroke="#ff7200" stroke-width="0.9"/>
<rect x="447.4" y="1481.9" width="6.8" height="6.8" fill="#fff" stroke="#ff7200" stroke-width="0.9"/>
<rect x="477.8" y="1473.2" width="6.8" height="6.8" fill="#fff" stroke="#ff7200" stroke-width="0.9"/>
<rect x="512.1" y="1467.2" width="6.8" height="6.8" fill="#fff" stroke="#ff7200" stroke-width="0.9"/>
<rect x="540.2" y="1458.1" width="6.8" height="6.8" fill="#fff" stroke="#ff7200" stroke-width="0.9"/>
<rect x="570.6" y="1443.4" width="6.8" height="6.8" fill="#fff" stroke="#ff7200" stroke-width="0.9"/>
<rect x="597.9" y="1434.7" width="6.8" height="6.8" fill="#fff" stroke="#ff7200" stroke-width="0.9"/>
<rect x="630.1" y="1422.4" width="6.8" height="6.8" fill="#fff" stroke="#ff7200" stroke-width="0.9"/>
<rect x="646.2" y="1413.7" width="6.8" height="6.8" fill="#fff" stroke="#ff7200" stroke-width="0.9"/>
<rect x="665.5" y="1403.2" width="6.8" height="6.8" fill="#fff" stroke="#ff7200" stroke-width="0.9"/>
<rect x="679.5" y="1395.5" width="6.8" height="6.8" fill="#fff" stroke="#ff7200" stroke-width="0.9"/>
<rect x="693.6" y="1385.7" width="6.8" height="6.8" fill="#fff" stroke="#ff7200" stroke-width="0.9"/>
<rect x="707.7" y="1372.9" width="6.8" height="6.8" fill="#fff" stroke="#ff7200" stroke-width="0.9"/>
<rect x="717.7" y="1356.8" width="6.8" height="6.8" fill="#fff" stroke="#ff7200" stroke-width="0.9"/>
<rect x="726.5" y="1347.0" width="6.8" height="6.8" fill="#fff" stroke="#ff7200" stroke-width="0.9"/>
<rect x="745.5" y="1334.7" width="6.8" height="6.8" fill="#fff" stroke="#ff7200" stroke-width="0.9"/>
<rect x="760.8" y="1324.9" width="6.8" height="6.8" fill="#fff" stroke="#ff7200" stroke-width="0.9"/>
<rect x="767.4" y="1317.9" width="6.8" height="6.8" fill="#fff" stroke="#ff7200" stroke-width="0.9"/>
<rect x="773.5" y="1305.2" width="6.8" height="6.8" fill="#fff" stroke="#ff7200" stroke-width="0.9"/>
<path d="M103.8,1563.8L124.0,1558.5L146.0,1552.5L168.1,1546.3L192.0,1540.5L218.4,1534.2L241.6,1531.4L269.5,1524.9L290.0,1521.0L308.3,1517.1L332.0,1513.5L356.7,1510.1L385.0,1503.0L413.3,1496.9L443.8,1488.8L473.5,1481.8L502.6,1475.5L532.4,1468.5L562.8,1461.9L585.6,1458.4L616.0,1444.0L645.1,1433.5L668.9,1431.1L694.2,1429.0L712.4,1416.5L733.6,1403.8L750.7,1393.9L757.7,1379.3L774.7,1367.7L784.6,1349.7L797.7,1334.8L809.1,1317.3" fill="none" stroke="#ff7200" stroke-width="2.9" stroke-dasharray="2.6 6.4" stroke-linecap="round" stroke-linejoin="round"/>
<path d="M124.0,1553.8L128.7,1561.9H119.3Z" fill="#fff" stroke="#ff7200" stroke-width="0.9"/>
<path d="M146.0,1547.8L150.7,1555.9H141.3Z" fill="#fff" stroke="#ff7200" stroke-width="0.9"/>
<path d="M168.1,1541.6L172.8,1549.7H163.4Z" fill="#fff" stroke="#ff7200" stroke-width="0.9"/>
<path d="M192.0,1535.8L196.7,1543.9H187.3Z" fill="#fff" stroke="#ff7200" stroke-width="0.9"/>
<path d="M218.4,1529.5L223.1,1537.6H213.7Z" fill="#fff" stroke="#ff7200" stroke-width="0.9"/>
<path d="M241.6,1526.7L246.3,1534.8H236.9Z" fill="#fff" stroke="#ff7200" stroke-width="0.9"/>
<path d="M269.5,1520.2L274.2,1528.3H264.8Z" fill="#fff" stroke="#ff7200" stroke-width="0.9"/>
<path d="M290.0,1516.3L294.7,1524.4H285.3Z" fill="#fff" stroke="#ff7200" stroke-width="0.9"/>
<path d="M308.3,1512.4L313.0,1520.5H303.6Z" fill="#fff" stroke="#ff7200" stroke-width="0.9"/>
<path d="M332.0,1508.8L336.7,1516.9H327.3Z" fill="#fff" stroke="#ff7200" stroke-width="0.9"/>
<path d="M356.7,1505.4L361.4,1513.5H352.0Z" fill="#fff" stroke="#ff7200" stroke-width="0.9"/>
<path d="M385.0,1498.3L389.7,1506.4H380.3Z" fill="#fff" stroke="#ff7200" stroke-width="0.9"/>
<path d="M413.3,1492.2L418.0,1500.3H408.6Z" fill="#fff" stroke="#ff7200" stroke-width="0.9"/>
<path d="M443.8,1484.1L448.5,1492.2H439.1Z" fill="#fff" stroke="#ff7200" stroke-width="0.9"/>
<path d="M473.5,1477.1L478.2,1485.2H468.8Z" fill="#fff" stroke="#ff7200" stroke-width="0.9"/>
<path d="M502.6,1470.8L507.3,1478.9H497.9Z" fill="#fff" stroke="#ff7200" stroke-width="0.9"/>
<path d="M532.4,1463.8L537.1,1471.9H527.7Z" fill="#fff" stroke="#ff7200" stroke-width="0.9"/>
<path d="M562.8,1457.2L567.5,1465.3H558.1Z" fill="#fff" stroke="#ff7200" stroke-width="0.9"/>
<path d="M585.6,1453.7L590.3,1461.8H580.9Z" fill="#fff" stroke="#ff7200" stroke-width="0.9"/>
<path d="M616.0,1439.3L620.7,1447.4H611.3Z" fill="#fff" stroke="#ff7200" stroke-width="0.9"/>
<path d="M645.1,1428.8L649.8,1436.9H640.4Z" fill="#fff" stroke="#ff7200" stroke-width="0.9"/>
<path d="M668.9,1426.4L673.6,1434.5H664.2Z" fill="#fff" stroke="#ff7200" stroke-width="0.9"/>
<path d="M694.2,1424.3L698.9,1432.4H689.5Z" fill="#fff" stroke="#ff7200" stroke-width="0.9"/>
<path d="M712.4,1411.8L717.1,1419.9H707.7Z" fill="#fff" stroke="#ff7200" stroke-width="0.9"/>
<path d="M733.6,1399.1L738.3,1407.2H728.9Z" fill="#fff" stroke="#ff7200" stroke-width="0.9"/>
<path d="M750.7,1389.2L755.4,1397.3H746.0Z" fill="#fff" stroke="#ff7200" stroke-width="0.9"/>
<path d="M757.7,1374.6L762.4,1382.7H753.0Z" fill="#fff" stroke="#ff7200" stroke-width="0.9"/>
<path d="M774.7,1363.0L779.4,1371.1H770.0Z" fill="#fff" stroke="#ff7200" stroke-width="0.9"/>
<path d="M784.6,1345.0L789.3,1353.1H779.9Z" fill="#fff" stroke="#ff7200" stroke-width="0.9"/>
<path d="M797.7,1330.1L802.4,1338.2H793.0Z" fill="#fff" stroke="#ff7200" stroke-width="0.9"/>
<path d="M809.1,1312.6L813.8,1320.7H804.4Z" fill="#fff" stroke="#ff7200" stroke-width="0.9"/>
<path d="M103.8,1563.8L120.0,1561.0L139.6,1555.6L162.3,1551.4L192.8,1545.1L227.8,1540.9L246.4,1536.3L271.6,1531.8L290.8,1529.3L313.6,1524.1L349.3,1518.8L369.6,1511.1L407.0,1503.9L441.0,1495.8L474.6,1487.8L516.6,1479.4L560.4,1473.1L607.3,1465.0L646.8,1450.3L661.9,1446.1L686.0,1434.6L704.7,1428.5L726.4,1421.3L742.8,1414.9L763.2,1413.8L776.9,1400.7L788.3,1383.0L815.2,1365.5L829.5,1348.6L838.2,1336.1L845.6,1323.5L852.4,1315.4" fill="none" stroke="#ff7200" stroke-width="2.9" stroke-dasharray="2.6 6.4" stroke-linecap="round" stroke-linejoin="round"/>
<path d="M120.0,1556.1L124.8,1561.0L120.0,1565.9L115.2,1561.0Z" fill="#fff" stroke="#ff7200" stroke-width="0.9"/>
<path d="M139.6,1550.7L144.4,1555.6L139.6,1560.5L134.8,1555.6Z" fill="#fff" stroke="#ff7200" stroke-width="0.9"/>
<path d="M162.3,1546.5L167.1,1551.4L162.3,1556.3L157.5,1551.4Z" fill="#fff" stroke="#ff7200" stroke-width="0.9"/>
<path d="M192.8,1540.2L197.6,1545.1L192.8,1550.0L188.0,1545.1Z" fill="#fff" stroke="#ff7200" stroke-width="0.9"/>
<path d="M227.8,1536.0L232.6,1540.9L227.8,1545.8L223.0,1540.9Z" fill="#fff" stroke="#ff7200" stroke-width="0.9"/>
<path d="M246.4,1531.4L251.2,1536.3L246.4,1541.2L241.6,1536.3Z" fill="#fff" stroke="#ff7200" stroke-width="0.9"/>
<path d="M271.6,1526.9L276.4,1531.8L271.6,1536.7L266.8,1531.8Z" fill="#fff" stroke="#ff7200" stroke-width="0.9"/>
<path d="M290.8,1524.4L295.6,1529.3L290.8,1534.2L286.0,1529.3Z" fill="#fff" stroke="#ff7200" stroke-width="0.9"/>
<path d="M313.6,1519.2L318.4,1524.1L313.6,1529.0L308.8,1524.1Z" fill="#fff" stroke="#ff7200" stroke-width="0.9"/>
<path d="M349.3,1513.9L354.1,1518.8L349.3,1523.7L344.5,1518.8Z" fill="#fff" stroke="#ff7200" stroke-width="0.9"/>
<path d="M369.6,1506.2L374.4,1511.1L369.6,1516.0L364.8,1511.1Z" fill="#fff" stroke="#ff7200" stroke-width="0.9"/>
<path d="M407.0,1499.0L411.8,1503.9L407.0,1508.8L402.2,1503.9Z" fill="#fff" stroke="#ff7200" stroke-width="0.9"/>
<path d="M441.0,1490.9L445.8,1495.8L441.0,1500.7L436.2,1495.8Z" fill="#fff" stroke="#ff7200" stroke-width="0.9"/>
<path d="M474.6,1482.9L479.4,1487.8L474.6,1492.7L469.8,1487.8Z" fill="#fff" stroke="#ff7200" stroke-width="0.9"/>
<path d="M516.6,1474.5L521.4,1479.4L516.6,1484.3L511.8,1479.4Z" fill="#fff" stroke="#ff7200" stroke-width="0.9"/>
<path d="M560.4,1468.2L565.2,1473.1L560.4,1478.0L555.6,1473.1Z" fill="#fff" stroke="#ff7200" stroke-width="0.9"/>
<path d="M607.3,1460.1L612.1,1465.0L607.3,1469.9L602.5,1465.0Z" fill="#fff" stroke="#ff7200" stroke-width="0.9"/>
<path d="M646.8,1445.4L651.6,1450.3L646.8,1455.2L642.0,1450.3Z" fill="#fff" stroke="#ff7200" stroke-width="0.9"/>
<path d="M661.9,1441.2L666.7,1446.1L661.9,1451.0L657.1,1446.1Z" fill="#fff" stroke="#ff7200" stroke-width="0.9"/>
<path d="M686.0,1429.7L690.8,1434.6L686.0,1439.5L681.2,1434.6Z" fill="#fff" stroke="#ff7200" stroke-width="0.9"/>
<path d="M704.7,1423.6L709.5,1428.5L704.7,1433.4L699.9,1428.5Z" fill="#fff" stroke="#ff7200" stroke-width="0.9"/>
<path d="M726.4,1416.4L731.2,1421.3L726.4,1426.2L721.6,1421.3Z" fill="#fff" stroke="#ff7200" stroke-width="0.9"/>
<path d="M742.8,1410.0L747.6,1414.9L742.8,1419.8L738.0,1414.9Z" fill="#fff" stroke="#ff7200" stroke-width="0.9"/>
<path d="M763.2,1408.9L768.0,1413.8L763.2,1418.7L758.4,1413.8Z" fill="#fff" stroke="#ff7200" stroke-width="0.9"/>
<path d="M776.9,1395.8L781.7,1400.7L776.9,1405.6L772.1,1400.7Z" fill="#fff" stroke="#ff7200" stroke-width="0.9"/>
<path d="M788.3,1378.1L793.1,1383.0L788.3,1387.9L783.5,1383.0Z" fill="#fff" stroke="#ff7200" stroke-width="0.9"/>
<path d="M815.2,1360.6L820.0,1365.5L815.2,1370.4L810.4,1365.5Z" fill="#fff" stroke="#ff7200" stroke-width="0.9"/>
<path d="M829.5,1343.7L834.3,1348.6L829.5,1353.5L824.7,1348.6Z" fill="#fff" stroke="#ff7200" stroke-width="0.9"/>
<path d="M838.2,1331.2L843.0,1336.1L838.2,1341.0L833.4,1336.1Z" fill="#fff" stroke="#ff7200" stroke-width="0.9"/>
<path d="M845.6,1318.6L850.4,1323.5L845.6,1328.4L840.8,1323.5Z" fill="#fff" stroke="#ff7200" stroke-width="0.9"/>
<path d="M852.4,1310.5L857.2,1315.4L852.4,1320.3L847.6,1315.4Z" fill="#fff" stroke="#ff7200" stroke-width="0.9"/>
</g>
</svg></body></html>
